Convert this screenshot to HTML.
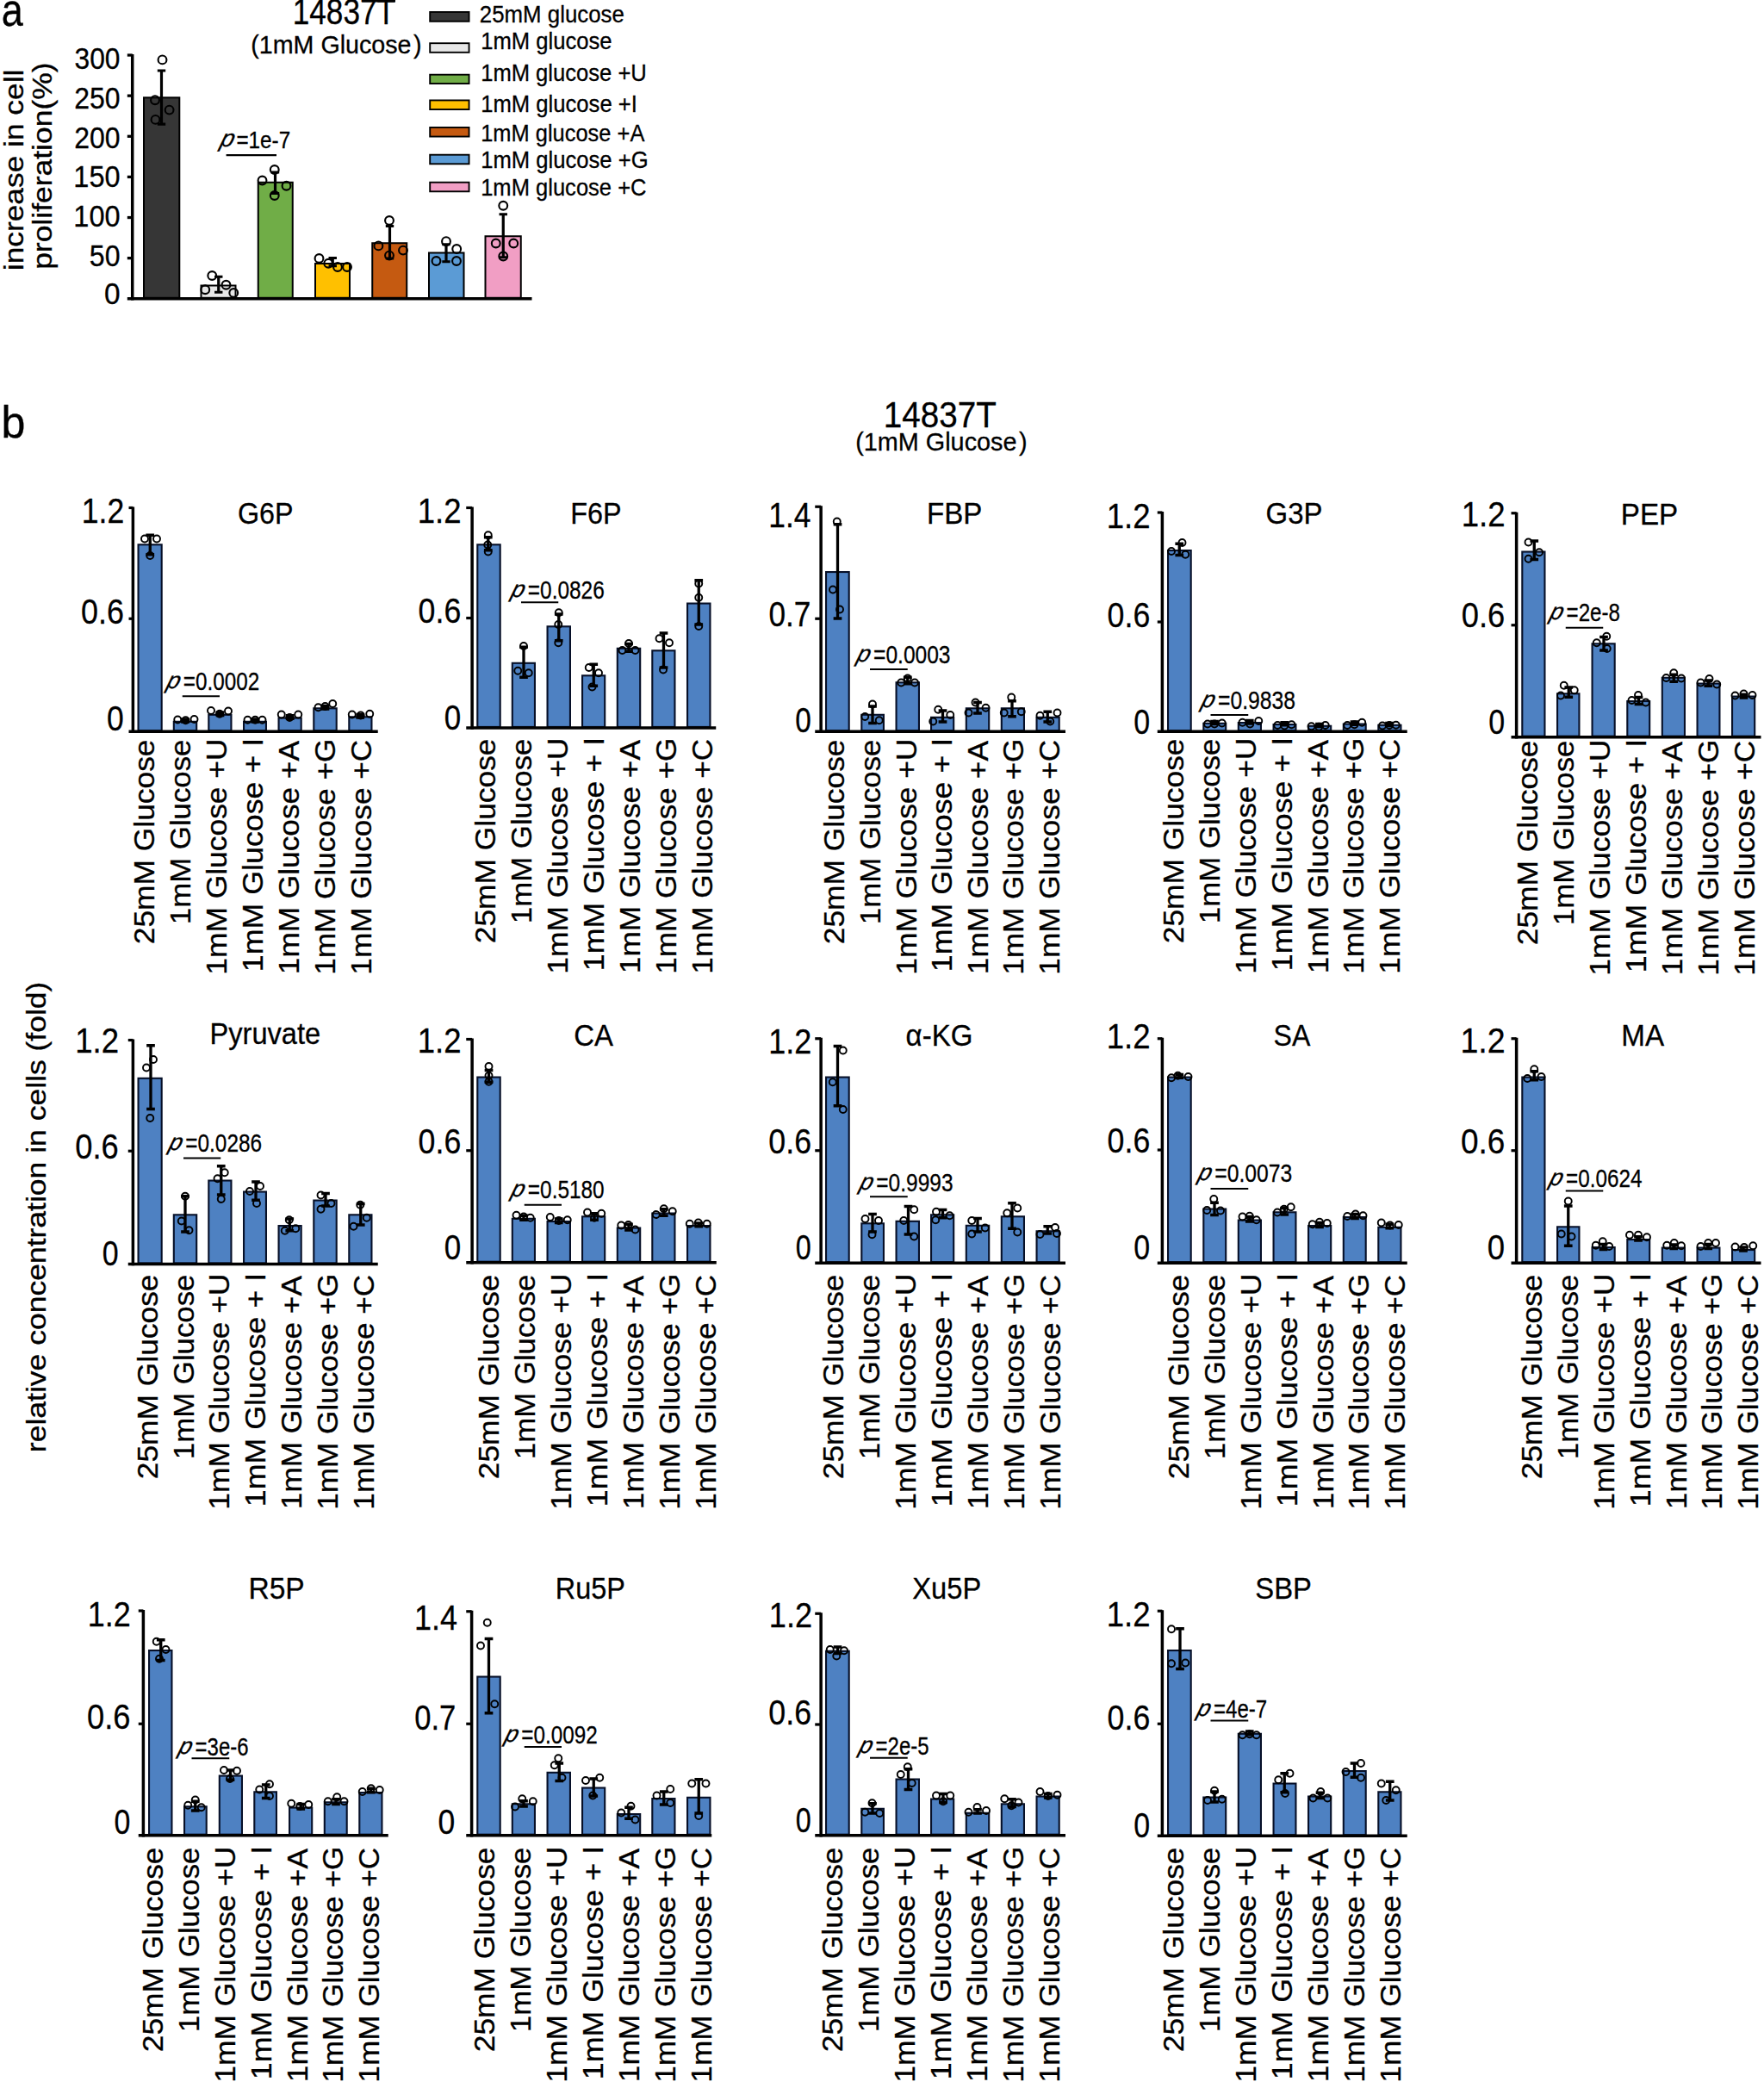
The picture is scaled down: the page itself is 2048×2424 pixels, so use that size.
<!DOCTYPE html>
<html lang="en"><head><meta charset="utf-8"><title>Figure</title>
<style>
html,body{margin:0;padding:0;background:#fff}
svg{display:block}
text{font-family:"Liberation Sans",sans-serif;fill:#000;stroke:#000;stroke-width:0.3px}
</style></head><body>
<svg width="2048" height="2424" viewBox="0 0 2048 2424">
<rect width="2048" height="2424" fill="#fff"/>
<g><!-- G6P -->
<rect x="160.55" y="632.30" width="27.15" height="215.90" fill="#4E81C2" stroke="#071028" stroke-width="2.1"/>
<rect x="201.80" y="837.80" width="26.40" height="10.40" fill="#4E81C2" stroke="#071028" stroke-width="2.1"/>
<rect x="242.30" y="829.80" width="26.15" height="18.40" fill="#4E81C2" stroke="#071028" stroke-width="2.1"/>
<rect x="283.05" y="837.80" width="25.90" height="10.40" fill="#4E81C2" stroke="#071028" stroke-width="2.1"/>
<rect x="323.55" y="833.55" width="26.15" height="14.65" fill="#4E81C2" stroke="#071028" stroke-width="2.1"/>
<rect x="364.30" y="822.30" width="26.40" height="25.90" fill="#4E81C2" stroke="#071028" stroke-width="2.1"/>
<rect x="405.30" y="832.30" width="26.15" height="15.90" fill="#4E81C2" stroke="#071028" stroke-width="2.1"/>
<path d="M154.38 588.55L154.38 851.00" stroke="#000" stroke-width="3.5" fill="none"/>
<path d="M149.50 849.25L438.75 849.25" stroke="#000" stroke-width="3.5" fill="none"/>
<path d="M149.50 589.50L154.38 589.50" stroke="#000" stroke-width="3.2" fill="none"/>
<path d="M149.50 718.25L154.38 718.25" stroke="#000" stroke-width="3.2" fill="none"/>
<path d="M174.25 621.25V643.75M169.40 621.25H179.10M169.40 643.75H179.10" stroke="#000" stroke-width="3.3" fill="none"/>
<path d="M215.00 835.00V838.00M210.15 835.00H219.85M210.15 838.00H219.85" stroke="#000" stroke-width="3.3" fill="none"/>
<path d="M255.50 827.00V830.50M250.65 827.00H260.35M250.65 830.50H260.35" stroke="#000" stroke-width="3.3" fill="none"/>
<path d="M296.25 835.00V838.00M291.40 835.00H301.10M291.40 838.00H301.10" stroke="#000" stroke-width="3.3" fill="none"/>
<path d="M336.75 830.75V834.25M331.90 830.75H341.60M331.90 834.25H341.60" stroke="#000" stroke-width="3.3" fill="none"/>
<path d="M377.50 819.50V823.00M372.65 819.50H382.35M372.65 823.00H382.35" stroke="#000" stroke-width="3.3" fill="none"/>
<path d="M418.25 829.50V833.00M413.40 829.50H423.10M413.40 833.00H423.10" stroke="#000" stroke-width="3.3" fill="none"/>
<circle cx="168.00" cy="625.50" r="4.0" fill="none" stroke="#000" stroke-width="1.9"/>
<circle cx="182.00" cy="625.50" r="4.0" fill="none" stroke="#000" stroke-width="1.9"/>
<circle cx="174.25" cy="645.00" r="4.0" fill="none" stroke="#000" stroke-width="1.9"/>
<circle cx="206.25" cy="835.50" r="4.0" fill="none" stroke="#000" stroke-width="1.9"/>
<circle cx="215.50" cy="836.25" r="4.0" fill="none" stroke="#000" stroke-width="1.9"/>
<circle cx="225.50" cy="835.00" r="4.0" fill="none" stroke="#000" stroke-width="1.9"/>
<circle cx="245.00" cy="825.00" r="4.0" fill="none" stroke="#000" stroke-width="1.9"/>
<circle cx="255.00" cy="828.75" r="4.0" fill="none" stroke="#000" stroke-width="1.9"/>
<circle cx="265.00" cy="825.50" r="4.0" fill="none" stroke="#000" stroke-width="1.9"/>
<circle cx="287.50" cy="835.75" r="4.0" fill="none" stroke="#000" stroke-width="1.9"/>
<circle cx="296.25" cy="835.75" r="4.0" fill="none" stroke="#000" stroke-width="1.9"/>
<circle cx="304.50" cy="835.75" r="4.0" fill="none" stroke="#000" stroke-width="1.9"/>
<circle cx="326.75" cy="829.50" r="4.0" fill="none" stroke="#000" stroke-width="1.9"/>
<circle cx="336.25" cy="833.00" r="4.0" fill="none" stroke="#000" stroke-width="1.9"/>
<circle cx="346.25" cy="829.50" r="4.0" fill="none" stroke="#000" stroke-width="1.9"/>
<circle cx="369.50" cy="821.25" r="4.0" fill="none" stroke="#000" stroke-width="1.9"/>
<circle cx="377.50" cy="820.00" r="4.0" fill="none" stroke="#000" stroke-width="1.9"/>
<circle cx="386.25" cy="817.00" r="4.0" fill="none" stroke="#000" stroke-width="1.9"/>
<circle cx="408.75" cy="829.50" r="4.0" fill="none" stroke="#000" stroke-width="1.9"/>
<circle cx="418.75" cy="830.50" r="4.0" fill="none" stroke="#000" stroke-width="1.9"/>
<circle cx="429.25" cy="828.75" r="4.0" fill="none" stroke="#000" stroke-width="1.9"/>
<text transform="translate(275.89,608.00) scale(0.9021,1)" font-size="35.76">G6P</text>
<text transform="translate(94.79,606.55) scale(0.8569,1)" font-size="41.55">1.2</text>
<text transform="translate(94.10,724.05) scale(0.8649,1)" font-size="41.55">0.6</text>
<text transform="translate(124.12,847.80) scale(0.8542,1)" font-size="41.55">0</text>
<text transform="translate(212.84,801.25) scale(0.8344,1)" font-size="29.08">=0.0002</text>
<text transform="translate(192.20,799.45) skewX(-16)" font-size="27" font-style="italic">p</text>
<path d="M211.75 808.25L255.00 808.25" stroke="#000" stroke-width="2.2" fill="none"/>
<text transform="translate(178.80,1096.27) rotate(-90) scale(1.0580,1)" font-size="33.43">25mM Glucose</text>
<text transform="translate(220.80,1073.15) rotate(-90) scale(1.0411,1)" font-size="33.43">1mM Glucose</text>
<text transform="translate(262.80,1131.69) rotate(-90) scale(1.0588,1)" font-size="33.43">1mM Glucose +U</text>
<text transform="translate(304.80,1128.22) rotate(-90) scale(1.0706,1)" font-size="33.43">1mM Glucose + I</text>
<text transform="translate(346.80,1131.18) rotate(-90) scale(1.0542,1)" font-size="33.43">1mM Glucose +A</text>
<text transform="translate(388.80,1131.67) rotate(-90) scale(1.0507,1)" font-size="33.43">1mM Glucose +G</text>
<text transform="translate(430.80,1131.68) rotate(-90) scale(1.0534,1)" font-size="33.43">1mM Glucose +C</text>
</g>
<g><!-- F6P -->
<rect x="554.30" y="632.30" width="26.40" height="211.65" fill="#4E81C2" stroke="#071028" stroke-width="2.1"/>
<rect x="594.80" y="769.80" width="26.15" height="74.15" fill="#4E81C2" stroke="#071028" stroke-width="2.1"/>
<rect x="635.55" y="727.30" width="26.40" height="116.65" fill="#4E81C2" stroke="#071028" stroke-width="2.1"/>
<rect x="676.05" y="784.30" width="26.15" height="59.65" fill="#4E81C2" stroke="#071028" stroke-width="2.1"/>
<rect x="716.80" y="752.80" width="26.40" height="91.15" fill="#4E81C2" stroke="#071028" stroke-width="2.1"/>
<rect x="757.30" y="755.30" width="26.15" height="88.65" fill="#4E81C2" stroke="#071028" stroke-width="2.1"/>
<rect x="798.05" y="700.55" width="26.40" height="143.40" fill="#4E81C2" stroke="#071028" stroke-width="2.1"/>
<path d="M548.12 588.55L548.12 846.75" stroke="#000" stroke-width="3.5" fill="none"/>
<path d="M541.25 845.00L831.25 845.00" stroke="#000" stroke-width="3.5" fill="none"/>
<path d="M541.25 589.50L548.12 589.50" stroke="#000" stroke-width="3.2" fill="none"/>
<path d="M541.25 717.50L548.12 717.50" stroke="#000" stroke-width="3.2" fill="none"/>
<path d="M566.75 623.75V638.75M561.90 623.75H571.60M561.90 638.75H571.60" stroke="#000" stroke-width="3.3" fill="none"/>
<path d="M608.00 751.25V786.25M603.15 751.25H612.85M603.15 786.25H612.85" stroke="#000" stroke-width="3.3" fill="none"/>
<path d="M648.75 713.00V743.75M643.90 713.00H653.60M643.90 743.75H653.60" stroke="#000" stroke-width="3.3" fill="none"/>
<path d="M689.25 771.25V796.25M684.40 771.25H694.10M684.40 796.25H694.10" stroke="#000" stroke-width="3.3" fill="none"/>
<path d="M730.00 747.50V756.25M725.15 747.50H734.85M725.15 756.25H734.85" stroke="#000" stroke-width="3.3" fill="none"/>
<path d="M770.50 735.00V775.00M765.65 735.00H775.35M765.65 775.00H775.35" stroke="#000" stroke-width="3.3" fill="none"/>
<path d="M811.25 673.75V725.00M806.40 673.75H816.10M806.40 725.00H816.10" stroke="#000" stroke-width="3.3" fill="none"/>
<circle cx="566.75" cy="621.25" r="4.0" fill="none" stroke="#000" stroke-width="1.9"/>
<circle cx="566.25" cy="632.50" r="4.0" fill="none" stroke="#000" stroke-width="1.9"/>
<circle cx="566.75" cy="640.50" r="4.0" fill="none" stroke="#000" stroke-width="1.9"/>
<circle cx="608.00" cy="750.00" r="4.0" fill="none" stroke="#000" stroke-width="1.9"/>
<circle cx="601.25" cy="778.75" r="4.0" fill="none" stroke="#000" stroke-width="1.9"/>
<circle cx="613.75" cy="781.25" r="4.0" fill="none" stroke="#000" stroke-width="1.9"/>
<circle cx="648.75" cy="711.25" r="4.0" fill="none" stroke="#000" stroke-width="1.9"/>
<circle cx="648.25" cy="725.00" r="4.0" fill="none" stroke="#000" stroke-width="1.9"/>
<circle cx="648.25" cy="746.25" r="4.0" fill="none" stroke="#000" stroke-width="1.9"/>
<circle cx="683.75" cy="775.00" r="4.0" fill="none" stroke="#000" stroke-width="1.9"/>
<circle cx="695.00" cy="781.25" r="4.0" fill="none" stroke="#000" stroke-width="1.9"/>
<circle cx="687.50" cy="797.50" r="4.0" fill="none" stroke="#000" stroke-width="1.9"/>
<circle cx="730.00" cy="747.00" r="4.0" fill="none" stroke="#000" stroke-width="1.9"/>
<circle cx="722.50" cy="755.00" r="4.0" fill="none" stroke="#000" stroke-width="1.9"/>
<circle cx="737.50" cy="755.00" r="4.0" fill="none" stroke="#000" stroke-width="1.9"/>
<circle cx="765.50" cy="741.25" r="4.0" fill="none" stroke="#000" stroke-width="1.9"/>
<circle cx="777.00" cy="746.25" r="4.0" fill="none" stroke="#000" stroke-width="1.9"/>
<circle cx="770.00" cy="777.50" r="4.0" fill="none" stroke="#000" stroke-width="1.9"/>
<circle cx="811.25" cy="677.50" r="4.0" fill="none" stroke="#000" stroke-width="1.9"/>
<circle cx="811.25" cy="693.75" r="4.0" fill="none" stroke="#000" stroke-width="1.9"/>
<circle cx="811.25" cy="727.00" r="4.0" fill="none" stroke="#000" stroke-width="1.9"/>
<text transform="translate(662.35,608.00) scale(0.9048,1)" font-size="35.76">F6P</text>
<text transform="translate(484.72,607.30) scale(0.8807,1)" font-size="41.55">1.2</text>
<text transform="translate(485.61,722.80) scale(0.8603,1)" font-size="41.55">0.6</text>
<text transform="translate(515.64,847.30) scale(0.8417,1)" font-size="41.55">0</text>
<text transform="translate(612.83,695.00) scale(0.8400,1)" font-size="29.08">=0.0826</text>
<text transform="translate(592.20,693.20) skewX(-16)" font-size="27" font-style="italic">p</text>
<path d="M605.00 699.25L648.25 699.25" stroke="#000" stroke-width="2.2" fill="none"/>
<text transform="translate(575.30,1095.27) rotate(-90) scale(1.0580,1)" font-size="33.43">25mM Glucose</text>
<text transform="translate(617.30,1072.15) rotate(-90) scale(1.0411,1)" font-size="33.43">1mM Glucose</text>
<text transform="translate(659.30,1130.69) rotate(-90) scale(1.0588,1)" font-size="33.43">1mM Glucose +U</text>
<text transform="translate(701.30,1127.22) rotate(-90) scale(1.0706,1)" font-size="33.43">1mM Glucose + I</text>
<text transform="translate(743.30,1130.18) rotate(-90) scale(1.0542,1)" font-size="33.43">1mM Glucose +A</text>
<text transform="translate(785.30,1130.67) rotate(-90) scale(1.0507,1)" font-size="33.43">1mM Glucose +G</text>
<text transform="translate(827.30,1130.68) rotate(-90) scale(1.0534,1)" font-size="33.43">1mM Glucose +C</text>
</g>
<g><!-- FBP -->
<rect x="959.05" y="664.05" width="26.65" height="184.15" fill="#4E81C2" stroke="#071028" stroke-width="2.1"/>
<rect x="1000.30" y="829.80" width="25.65" height="18.40" fill="#4E81C2" stroke="#071028" stroke-width="2.1"/>
<rect x="1040.55" y="792.30" width="26.40" height="55.90" fill="#4E81C2" stroke="#071028" stroke-width="2.1"/>
<rect x="1081.05" y="832.80" width="26.15" height="15.40" fill="#4E81C2" stroke="#071028" stroke-width="2.1"/>
<rect x="1121.80" y="822.30" width="26.40" height="25.90" fill="#4E81C2" stroke="#071028" stroke-width="2.1"/>
<rect x="1162.80" y="822.30" width="26.15" height="25.90" fill="#4E81C2" stroke="#071028" stroke-width="2.1"/>
<rect x="1203.55" y="832.80" width="26.15" height="15.40" fill="#4E81C2" stroke="#071028" stroke-width="2.1"/>
<path d="M953.12 587.30L953.12 851.00" stroke="#000" stroke-width="3.5" fill="none"/>
<path d="M946.25 849.25L1237.00 849.25" stroke="#000" stroke-width="3.5" fill="none"/>
<path d="M946.25 588.25L953.12 588.25" stroke="#000" stroke-width="3.2" fill="none"/>
<path d="M946.25 718.25L953.12 718.25" stroke="#000" stroke-width="3.2" fill="none"/>
<path d="M972.50 608.75V718.00M967.65 608.75H977.35M967.65 718.00H977.35" stroke="#000" stroke-width="3.3" fill="none"/>
<path d="M1013.00 820.00V839.50M1008.15 820.00H1017.85M1008.15 839.50H1017.85" stroke="#000" stroke-width="3.3" fill="none"/>
<path d="M1053.75 786.25V793.75M1048.90 786.25H1058.60M1048.90 793.75H1058.60" stroke="#000" stroke-width="3.3" fill="none"/>
<path d="M1094.50 825.00V838.00M1089.65 825.00H1099.35M1089.65 838.00H1099.35" stroke="#000" stroke-width="3.3" fill="none"/>
<path d="M1135.00 815.50V828.00M1130.15 815.50H1139.85M1130.15 828.00H1139.85" stroke="#000" stroke-width="3.3" fill="none"/>
<path d="M1175.00 813.75V831.75M1170.15 813.75H1179.85M1170.15 831.75H1179.85" stroke="#000" stroke-width="3.3" fill="none"/>
<path d="M1216.25 826.25V838.00M1211.40 826.25H1221.10M1211.40 838.00H1221.10" stroke="#000" stroke-width="3.3" fill="none"/>
<circle cx="971.75" cy="605.50" r="4.0" fill="none" stroke="#000" stroke-width="1.9"/>
<circle cx="967.00" cy="684.50" r="4.0" fill="none" stroke="#000" stroke-width="1.9"/>
<circle cx="975.00" cy="707.50" r="4.0" fill="none" stroke="#000" stroke-width="1.9"/>
<circle cx="1013.00" cy="817.50" r="4.0" fill="none" stroke="#000" stroke-width="1.9"/>
<circle cx="1004.25" cy="832.00" r="4.0" fill="none" stroke="#000" stroke-width="1.9"/>
<circle cx="1020.75" cy="836.25" r="4.0" fill="none" stroke="#000" stroke-width="1.9"/>
<circle cx="1053.75" cy="787.50" r="4.0" fill="none" stroke="#000" stroke-width="1.9"/>
<circle cx="1046.25" cy="792.50" r="4.0" fill="none" stroke="#000" stroke-width="1.9"/>
<circle cx="1062.00" cy="792.50" r="4.0" fill="none" stroke="#000" stroke-width="1.9"/>
<circle cx="1089.25" cy="823.75" r="4.0" fill="none" stroke="#000" stroke-width="1.9"/>
<circle cx="1103.25" cy="830.00" r="4.0" fill="none" stroke="#000" stroke-width="1.9"/>
<circle cx="1083.25" cy="837.50" r="4.0" fill="none" stroke="#000" stroke-width="1.9"/>
<circle cx="1132.50" cy="815.50" r="4.0" fill="none" stroke="#000" stroke-width="1.9"/>
<circle cx="1144.50" cy="821.75" r="4.0" fill="none" stroke="#000" stroke-width="1.9"/>
<circle cx="1124.50" cy="827.50" r="4.0" fill="none" stroke="#000" stroke-width="1.9"/>
<circle cx="1174.25" cy="809.50" r="4.0" fill="none" stroke="#000" stroke-width="1.9"/>
<circle cx="1165.75" cy="827.50" r="4.0" fill="none" stroke="#000" stroke-width="1.9"/>
<circle cx="1185.75" cy="826.25" r="4.0" fill="none" stroke="#000" stroke-width="1.9"/>
<circle cx="1227.50" cy="827.50" r="4.0" fill="none" stroke="#000" stroke-width="1.9"/>
<circle cx="1207.50" cy="830.75" r="4.0" fill="none" stroke="#000" stroke-width="1.9"/>
<circle cx="1219.25" cy="837.50" r="4.0" fill="none" stroke="#000" stroke-width="1.9"/>
<text transform="translate(1076.03,608.00) scale(0.9266,1)" font-size="35.76">FBP</text>
<text transform="translate(892.31,612.30) scale(0.8522,1)" font-size="41.55">1.4</text>
<text transform="translate(892.38,726.55) scale(0.8464,1)" font-size="41.55">0.7</text>
<text transform="translate(923.20,849.80) scale(0.8040,1)" font-size="41.55">0</text>
<text transform="translate(1014.07,769.50) scale(0.8448,1)" font-size="29.08">=0.0003</text>
<text transform="translate(993.45,767.70) skewX(-16)" font-size="27" font-style="italic">p</text>
<path d="M1010.00 777.00L1053.75 777.00" stroke="#000" stroke-width="2.2" fill="none"/>
<text transform="translate(980.30,1096.27) rotate(-90) scale(1.0580,1)" font-size="33.43">25mM Glucose</text>
<text transform="translate(1021.90,1073.15) rotate(-90) scale(1.0411,1)" font-size="33.43">1mM Glucose</text>
<text transform="translate(1063.50,1131.69) rotate(-90) scale(1.0588,1)" font-size="33.43">1mM Glucose +U</text>
<text transform="translate(1105.10,1128.22) rotate(-90) scale(1.0706,1)" font-size="33.43">1mM Glucose + I</text>
<text transform="translate(1146.70,1131.18) rotate(-90) scale(1.0542,1)" font-size="33.43">1mM Glucose +A</text>
<text transform="translate(1188.30,1131.67) rotate(-90) scale(1.0507,1)" font-size="33.43">1mM Glucose +G</text>
<text transform="translate(1229.90,1131.68) rotate(-90) scale(1.0534,1)" font-size="33.43">1mM Glucose +C</text>
</g>
<g><!-- G3P -->
<rect x="1356.05" y="639.05" width="26.65" height="209.15" fill="#4E81C2" stroke="#071028" stroke-width="2.1"/>
<rect x="1397.30" y="839.80" width="25.90" height="8.40" fill="#4E81C2" stroke="#071028" stroke-width="2.1"/>
<rect x="1437.80" y="839.05" width="26.15" height="9.15" fill="#4E81C2" stroke="#071028" stroke-width="2.1"/>
<rect x="1478.55" y="841.05" width="25.90" height="7.15" fill="#4E81C2" stroke="#071028" stroke-width="2.1"/>
<rect x="1519.05" y="842.80" width="26.15" height="5.40" fill="#4E81C2" stroke="#071028" stroke-width="2.1"/>
<rect x="1559.80" y="840.55" width="25.90" height="7.65" fill="#4E81C2" stroke="#071028" stroke-width="2.1"/>
<rect x="1600.30" y="841.80" width="26.15" height="6.40" fill="#4E81C2" stroke="#071028" stroke-width="2.1"/>
<path d="M1349.38 594.05L1349.38 851.00" stroke="#000" stroke-width="3.5" fill="none"/>
<path d="M1343.75 849.25L1633.75 849.25" stroke="#000" stroke-width="3.5" fill="none"/>
<path d="M1343.75 595.00L1349.38 595.00" stroke="#000" stroke-width="3.2" fill="none"/>
<path d="M1343.75 722.00L1349.38 722.00" stroke="#000" stroke-width="3.2" fill="none"/>
<path d="M1369.25 631.25V644.50M1364.40 631.25H1374.10M1364.40 644.50H1374.10" stroke="#000" stroke-width="3.3" fill="none"/>
<path d="M1410.00 837.50V840.50M1405.15 837.50H1414.85M1405.15 840.50H1414.85" stroke="#000" stroke-width="3.3" fill="none"/>
<path d="M1450.75 836.50V840.00M1445.90 836.50H1455.60M1445.90 840.00H1455.60" stroke="#000" stroke-width="3.3" fill="none"/>
<path d="M1491.25 838.75V841.75M1486.40 838.75H1496.10M1486.40 841.75H1496.10" stroke="#000" stroke-width="3.3" fill="none"/>
<path d="M1532.00 840.50V843.50M1527.15 840.50H1536.85M1527.15 843.50H1536.85" stroke="#000" stroke-width="3.3" fill="none"/>
<path d="M1572.50 838.00V841.25M1567.65 838.00H1577.35M1567.65 841.25H1577.35" stroke="#000" stroke-width="3.3" fill="none"/>
<path d="M1613.00 839.50V842.50M1608.15 839.50H1617.85M1608.15 842.50H1617.85" stroke="#000" stroke-width="3.3" fill="none"/>
<circle cx="1372.50" cy="630.00" r="4.0" fill="none" stroke="#000" stroke-width="1.9"/>
<circle cx="1360.00" cy="640.00" r="4.0" fill="none" stroke="#000" stroke-width="1.9"/>
<circle cx="1376.25" cy="643.75" r="4.0" fill="none" stroke="#000" stroke-width="1.9"/>
<circle cx="1402.00" cy="840.50" r="4.0" fill="none" stroke="#000" stroke-width="1.9"/>
<circle cx="1410.00" cy="840.50" r="4.0" fill="none" stroke="#000" stroke-width="1.9"/>
<circle cx="1418.75" cy="839.50" r="4.0" fill="none" stroke="#000" stroke-width="1.9"/>
<circle cx="1442.50" cy="838.75" r="4.0" fill="none" stroke="#000" stroke-width="1.9"/>
<circle cx="1451.25" cy="840.50" r="4.0" fill="none" stroke="#000" stroke-width="1.9"/>
<circle cx="1461.25" cy="837.00" r="4.0" fill="none" stroke="#000" stroke-width="1.9"/>
<circle cx="1483.25" cy="842.00" r="4.0" fill="none" stroke="#000" stroke-width="1.9"/>
<circle cx="1491.25" cy="842.50" r="4.0" fill="none" stroke="#000" stroke-width="1.9"/>
<circle cx="1499.50" cy="841.25" r="4.0" fill="none" stroke="#000" stroke-width="1.9"/>
<circle cx="1522.50" cy="843.25" r="4.0" fill="none" stroke="#000" stroke-width="1.9"/>
<circle cx="1531.25" cy="843.75" r="4.0" fill="none" stroke="#000" stroke-width="1.9"/>
<circle cx="1538.75" cy="842.00" r="4.0" fill="none" stroke="#000" stroke-width="1.9"/>
<circle cx="1564.25" cy="842.00" r="4.0" fill="none" stroke="#000" stroke-width="1.9"/>
<circle cx="1572.50" cy="841.25" r="4.0" fill="none" stroke="#000" stroke-width="1.9"/>
<circle cx="1581.25" cy="838.75" r="4.0" fill="none" stroke="#000" stroke-width="1.9"/>
<circle cx="1605.00" cy="842.50" r="4.0" fill="none" stroke="#000" stroke-width="1.9"/>
<circle cx="1613.00" cy="842.00" r="4.0" fill="none" stroke="#000" stroke-width="1.9"/>
<circle cx="1620.75" cy="841.75" r="4.0" fill="none" stroke="#000" stroke-width="1.9"/>
<text transform="translate(1469.60,608.00) scale(0.9205,1)" font-size="35.76">G3P</text>
<text transform="translate(1284.72,613.30) scale(0.8807,1)" font-size="41.55">1.2</text>
<text transform="translate(1285.61,728.30) scale(0.8603,1)" font-size="41.55">0.6</text>
<text transform="translate(1316.18,851.55) scale(0.8165,1)" font-size="41.55">0</text>
<text transform="translate(1414.06,822.50) scale(0.8497,1)" font-size="29.08">=0.9838</text>
<text transform="translate(1393.45,820.70) skewX(-16)" font-size="27" font-style="italic">p</text>
<path d="M1405.50 830.00L1449.25 830.00" stroke="#000" stroke-width="2.2" fill="none"/>
<text transform="translate(1374.30,1095.27) rotate(-90) scale(1.0580,1)" font-size="33.43">25mM Glucose</text>
<text transform="translate(1416.10,1072.15) rotate(-90) scale(1.0411,1)" font-size="33.43">1mM Glucose</text>
<text transform="translate(1457.90,1130.69) rotate(-90) scale(1.0588,1)" font-size="33.43">1mM Glucose +U</text>
<text transform="translate(1499.70,1127.22) rotate(-90) scale(1.0706,1)" font-size="33.43">1mM Glucose + I</text>
<text transform="translate(1541.50,1130.18) rotate(-90) scale(1.0542,1)" font-size="33.43">1mM Glucose +A</text>
<text transform="translate(1583.30,1130.67) rotate(-90) scale(1.0507,1)" font-size="33.43">1mM Glucose +G</text>
<text transform="translate(1625.10,1130.68) rotate(-90) scale(1.0534,1)" font-size="33.43">1mM Glucose +C</text>
</g>
<g><!-- PEP -->
<rect x="1767.30" y="640.55" width="26.15" height="214.15" fill="#4E81C2" stroke="#071028" stroke-width="2.1"/>
<rect x="1808.05" y="805.30" width="25.40" height="49.40" fill="#4E81C2" stroke="#071028" stroke-width="2.1"/>
<rect x="1848.55" y="747.30" width="26.15" height="107.40" fill="#4E81C2" stroke="#071028" stroke-width="2.1"/>
<rect x="1889.30" y="814.05" width="25.90" height="40.65" fill="#4E81C2" stroke="#071028" stroke-width="2.1"/>
<rect x="1929.80" y="786.80" width="26.15" height="67.90" fill="#4E81C2" stroke="#071028" stroke-width="2.1"/>
<rect x="1970.55" y="793.55" width="25.90" height="61.15" fill="#4E81C2" stroke="#071028" stroke-width="2.1"/>
<rect x="2011.05" y="808.55" width="26.15" height="46.15" fill="#4E81C2" stroke="#071028" stroke-width="2.1"/>
<path d="M1760.62 594.80L1760.62 857.50" stroke="#000" stroke-width="3.5" fill="none"/>
<path d="M1754.50 855.75L2044.50 855.75" stroke="#000" stroke-width="3.5" fill="none"/>
<path d="M1754.50 595.75L1760.62 595.75" stroke="#000" stroke-width="3.2" fill="none"/>
<path d="M1754.50 725.75L1760.62 725.75" stroke="#000" stroke-width="3.2" fill="none"/>
<path d="M1781.25 628.00V649.50M1776.40 628.00H1786.10M1776.40 649.50H1786.10" stroke="#000" stroke-width="3.3" fill="none"/>
<path d="M1821.25 798.00V809.25M1816.40 798.00H1826.10M1816.40 809.25H1826.10" stroke="#000" stroke-width="3.3" fill="none"/>
<path d="M1862.00 739.50V755.00M1857.15 739.50H1866.85M1857.15 755.00H1866.85" stroke="#000" stroke-width="3.3" fill="none"/>
<path d="M1902.50 809.50V817.50M1897.65 809.50H1907.35M1897.65 817.50H1907.35" stroke="#000" stroke-width="3.3" fill="none"/>
<path d="M1943.25 783.25V791.25M1938.40 783.25H1948.10M1938.40 791.25H1948.10" stroke="#000" stroke-width="3.3" fill="none"/>
<path d="M1983.25 790.00V796.25M1978.40 790.00H1988.10M1978.40 796.25H1988.10" stroke="#000" stroke-width="3.3" fill="none"/>
<path d="M2024.50 806.25V810.00M2019.65 806.25H2029.35M2019.65 810.00H2029.35" stroke="#000" stroke-width="3.3" fill="none"/>
<circle cx="1774.50" cy="629.50" r="4.0" fill="none" stroke="#000" stroke-width="1.9"/>
<circle cx="1787.00" cy="641.25" r="4.0" fill="none" stroke="#000" stroke-width="1.9"/>
<circle cx="1774.50" cy="648.75" r="4.0" fill="none" stroke="#000" stroke-width="1.9"/>
<circle cx="1815.75" cy="795.75" r="4.0" fill="none" stroke="#000" stroke-width="1.9"/>
<circle cx="1827.75" cy="801.25" r="4.0" fill="none" stroke="#000" stroke-width="1.9"/>
<circle cx="1812.00" cy="807.50" r="4.0" fill="none" stroke="#000" stroke-width="1.9"/>
<circle cx="1865.25" cy="738.75" r="4.0" fill="none" stroke="#000" stroke-width="1.9"/>
<circle cx="1853.75" cy="746.25" r="4.0" fill="none" stroke="#000" stroke-width="1.9"/>
<circle cx="1865.75" cy="753.00" r="4.0" fill="none" stroke="#000" stroke-width="1.9"/>
<circle cx="1902.00" cy="807.00" r="4.0" fill="none" stroke="#000" stroke-width="1.9"/>
<circle cx="1894.50" cy="813.00" r="4.0" fill="none" stroke="#000" stroke-width="1.9"/>
<circle cx="1910.75" cy="815.50" r="4.0" fill="none" stroke="#000" stroke-width="1.9"/>
<circle cx="1943.25" cy="781.25" r="4.0" fill="none" stroke="#000" stroke-width="1.9"/>
<circle cx="1934.50" cy="787.00" r="4.0" fill="none" stroke="#000" stroke-width="1.9"/>
<circle cx="1952.00" cy="787.50" r="4.0" fill="none" stroke="#000" stroke-width="1.9"/>
<circle cx="1984.50" cy="788.00" r="4.0" fill="none" stroke="#000" stroke-width="1.9"/>
<circle cx="1974.50" cy="792.50" r="4.0" fill="none" stroke="#000" stroke-width="1.9"/>
<circle cx="1993.25" cy="794.50" r="4.0" fill="none" stroke="#000" stroke-width="1.9"/>
<circle cx="2014.50" cy="807.50" r="4.0" fill="none" stroke="#000" stroke-width="1.9"/>
<circle cx="2024.50" cy="805.50" r="4.0" fill="none" stroke="#000" stroke-width="1.9"/>
<circle cx="2034.50" cy="807.00" r="4.0" fill="none" stroke="#000" stroke-width="1.9"/>
<text transform="translate(1881.78,608.50) scale(0.9288,1)" font-size="35.76">PEP</text>
<text transform="translate(1696.72,610.80) scale(0.8807,1)" font-size="41.55">1.2</text>
<text transform="translate(1696.83,728.30) scale(0.8741,1)" font-size="41.55">0.6</text>
<text transform="translate(1728.18,851.55) scale(0.8165,1)" font-size="41.55">0</text>
<text transform="translate(1818.59,720.75) scale(0.8307,1)" font-size="29.08">=2e-8</text>
<text transform="translate(1797.95,718.95) skewX(-16)" font-size="27" font-style="italic">p</text>
<path d="M1817.75 728.75L1861.25 728.75" stroke="#000" stroke-width="2.2" fill="none"/>
<text transform="translate(1785.30,1097.27) rotate(-90) scale(1.0580,1)" font-size="33.43">25mM Glucose</text>
<text transform="translate(1827.20,1074.15) rotate(-90) scale(1.0411,1)" font-size="33.43">1mM Glucose</text>
<text transform="translate(1869.10,1132.69) rotate(-90) scale(1.0588,1)" font-size="33.43">1mM Glucose +U</text>
<text transform="translate(1911.00,1129.22) rotate(-90) scale(1.0706,1)" font-size="33.43">1mM Glucose + I</text>
<text transform="translate(1952.90,1132.18) rotate(-90) scale(1.0542,1)" font-size="33.43">1mM Glucose +A</text>
<text transform="translate(1994.80,1132.67) rotate(-90) scale(1.0507,1)" font-size="33.43">1mM Glucose +G</text>
<text transform="translate(2036.70,1132.68) rotate(-90) scale(1.0534,1)" font-size="33.43">1mM Glucose +C</text>
</g>
<g><!-- Pyruvate -->
<rect x="160.55" y="1251.80" width="27.15" height="214.65" fill="#4E81C2" stroke="#071028" stroke-width="2.1"/>
<rect x="201.80" y="1410.30" width="26.40" height="56.15" fill="#4E81C2" stroke="#071028" stroke-width="2.1"/>
<rect x="242.30" y="1370.55" width="26.15" height="95.90" fill="#4E81C2" stroke="#071028" stroke-width="2.1"/>
<rect x="283.05" y="1383.55" width="25.90" height="82.90" fill="#4E81C2" stroke="#071028" stroke-width="2.1"/>
<rect x="323.55" y="1423.05" width="26.15" height="43.40" fill="#4E81C2" stroke="#071028" stroke-width="2.1"/>
<rect x="364.30" y="1393.55" width="26.40" height="72.90" fill="#4E81C2" stroke="#071028" stroke-width="2.1"/>
<rect x="405.30" y="1410.30" width="26.15" height="56.15" fill="#4E81C2" stroke="#071028" stroke-width="2.1"/>
<path d="M154.38 1206.55L154.38 1469.25" stroke="#000" stroke-width="3.5" fill="none"/>
<path d="M148.75 1467.50L438.75 1467.50" stroke="#000" stroke-width="3.5" fill="none"/>
<path d="M148.75 1207.50L154.38 1207.50" stroke="#000" stroke-width="3.2" fill="none"/>
<path d="M148.75 1336.25L154.38 1336.25" stroke="#000" stroke-width="3.2" fill="none"/>
<path d="M175.00 1213.75V1287.50M170.15 1213.75H179.85M170.15 1287.50H179.85" stroke="#000" stroke-width="3.3" fill="none"/>
<path d="M215.00 1388.75V1430.00M210.15 1388.75H219.85M210.15 1430.00H219.85" stroke="#000" stroke-width="3.3" fill="none"/>
<path d="M256.75 1353.75V1387.00M251.90 1353.75H261.60M251.90 1387.00H261.60" stroke="#000" stroke-width="3.3" fill="none"/>
<path d="M297.00 1372.00V1393.25M292.15 1372.00H301.85M292.15 1393.25H301.85" stroke="#000" stroke-width="3.3" fill="none"/>
<path d="M336.25 1415.00V1428.75M331.40 1415.00H341.10M331.40 1428.75H341.10" stroke="#000" stroke-width="3.3" fill="none"/>
<path d="M378.00 1385.50V1400.00M373.15 1385.50H382.85M373.15 1400.00H382.85" stroke="#000" stroke-width="3.3" fill="none"/>
<path d="M418.75 1397.50V1422.00M413.90 1397.50H423.60M413.90 1422.00H423.60" stroke="#000" stroke-width="3.3" fill="none"/>
<circle cx="178.00" cy="1230.00" r="4.0" fill="none" stroke="#000" stroke-width="1.9"/>
<circle cx="170.00" cy="1239.50" r="4.0" fill="none" stroke="#000" stroke-width="1.9"/>
<circle cx="174.25" cy="1298.00" r="4.0" fill="none" stroke="#000" stroke-width="1.9"/>
<circle cx="215.00" cy="1388.75" r="4.0" fill="none" stroke="#000" stroke-width="1.9"/>
<circle cx="210.75" cy="1417.50" r="4.0" fill="none" stroke="#000" stroke-width="1.9"/>
<circle cx="219.50" cy="1428.25" r="4.0" fill="none" stroke="#000" stroke-width="1.9"/>
<circle cx="260.75" cy="1361.25" r="4.0" fill="none" stroke="#000" stroke-width="1.9"/>
<circle cx="252.50" cy="1368.25" r="4.0" fill="none" stroke="#000" stroke-width="1.9"/>
<circle cx="256.75" cy="1392.00" r="4.0" fill="none" stroke="#000" stroke-width="1.9"/>
<circle cx="302.00" cy="1377.00" r="4.0" fill="none" stroke="#000" stroke-width="1.9"/>
<circle cx="290.00" cy="1383.00" r="4.0" fill="none" stroke="#000" stroke-width="1.9"/>
<circle cx="298.00" cy="1397.00" r="4.0" fill="none" stroke="#000" stroke-width="1.9"/>
<circle cx="335.75" cy="1416.25" r="4.0" fill="none" stroke="#000" stroke-width="1.9"/>
<circle cx="330.75" cy="1428.75" r="4.0" fill="none" stroke="#000" stroke-width="1.9"/>
<circle cx="343.25" cy="1426.25" r="4.0" fill="none" stroke="#000" stroke-width="1.9"/>
<circle cx="372.50" cy="1387.50" r="4.0" fill="none" stroke="#000" stroke-width="1.9"/>
<circle cx="384.50" cy="1397.00" r="4.0" fill="none" stroke="#000" stroke-width="1.9"/>
<circle cx="372.50" cy="1403.75" r="4.0" fill="none" stroke="#000" stroke-width="1.9"/>
<circle cx="418.25" cy="1398.75" r="4.0" fill="none" stroke="#000" stroke-width="1.9"/>
<circle cx="425.75" cy="1413.75" r="4.0" fill="none" stroke="#000" stroke-width="1.9"/>
<circle cx="410.50" cy="1423.75" r="4.0" fill="none" stroke="#000" stroke-width="1.9"/>
<text transform="translate(243.58,1212.25) scale(0.9115,1)" font-size="35.76">Pyruvate</text>
<text transform="translate(87.22,1222.05) scale(0.8807,1)" font-size="41.55">1.2</text>
<text transform="translate(87.33,1345.30) scale(0.8741,1)" font-size="41.55">0.6</text>
<text transform="translate(118.68,1469.05) scale(0.8165,1)" font-size="41.55">0</text>
<text transform="translate(215.33,1337.00) scale(0.8376,1)" font-size="29.08">=0.0286</text>
<text transform="translate(194.70,1335.20) skewX(-16)" font-size="27" font-style="italic">p</text>
<path d="M213.00 1344.50L256.25 1344.50" stroke="#000" stroke-width="2.2" fill="none"/>
<text transform="translate(182.80,1717.27) rotate(-90) scale(1.0580,1)" font-size="33.43">25mM Glucose</text>
<text transform="translate(224.60,1694.15) rotate(-90) scale(1.0411,1)" font-size="33.43">1mM Glucose</text>
<text transform="translate(266.40,1752.69) rotate(-90) scale(1.0588,1)" font-size="33.43">1mM Glucose +U</text>
<text transform="translate(308.20,1749.22) rotate(-90) scale(1.0706,1)" font-size="33.43">1mM Glucose + I</text>
<text transform="translate(350.00,1752.18) rotate(-90) scale(1.0542,1)" font-size="33.43">1mM Glucose +A</text>
<text transform="translate(391.80,1752.67) rotate(-90) scale(1.0507,1)" font-size="33.43">1mM Glucose +G</text>
<text transform="translate(433.60,1752.68) rotate(-90) scale(1.0534,1)" font-size="33.43">1mM Glucose +C</text>
</g>
<g><!-- CA -->
<rect x="554.30" y="1250.55" width="26.40" height="214.15" fill="#4E81C2" stroke="#071028" stroke-width="2.1"/>
<rect x="594.80" y="1414.80" width="26.15" height="49.90" fill="#4E81C2" stroke="#071028" stroke-width="2.1"/>
<rect x="635.55" y="1418.05" width="26.40" height="46.65" fill="#4E81C2" stroke="#071028" stroke-width="2.1"/>
<rect x="676.05" y="1412.30" width="26.15" height="52.40" fill="#4E81C2" stroke="#071028" stroke-width="2.1"/>
<rect x="716.80" y="1425.55" width="26.40" height="39.15" fill="#4E81C2" stroke="#071028" stroke-width="2.1"/>
<rect x="757.30" y="1408.55" width="26.15" height="56.15" fill="#4E81C2" stroke="#071028" stroke-width="2.1"/>
<rect x="798.05" y="1423.05" width="26.40" height="41.65" fill="#4E81C2" stroke="#071028" stroke-width="2.1"/>
<path d="M548.12 1205.55L548.12 1467.50" stroke="#000" stroke-width="3.5" fill="none"/>
<path d="M541.25 1465.75L831.75 1465.75" stroke="#000" stroke-width="3.5" fill="none"/>
<path d="M541.25 1206.50L548.12 1206.50" stroke="#000" stroke-width="3.2" fill="none"/>
<path d="M541.25 1335.75L548.12 1335.75" stroke="#000" stroke-width="3.2" fill="none"/>
<path d="M567.50 1242.50V1256.25M562.65 1242.50H572.35M562.65 1256.25H572.35" stroke="#000" stroke-width="3.3" fill="none"/>
<path d="M608.00 1411.25V1416.25M603.15 1411.25H612.85M603.15 1416.25H612.85" stroke="#000" stroke-width="3.3" fill="none"/>
<path d="M648.75 1415.00V1419.50M643.90 1415.00H653.60M643.90 1419.50H653.60" stroke="#000" stroke-width="3.3" fill="none"/>
<path d="M690.00 1408.75V1416.25M685.15 1408.75H694.85M685.15 1416.25H694.85" stroke="#000" stroke-width="3.3" fill="none"/>
<path d="M730.00 1421.25V1428.00M725.15 1421.25H734.85M725.15 1428.00H734.85" stroke="#000" stroke-width="3.3" fill="none"/>
<path d="M770.75 1403.75V1411.25M765.90 1403.75H775.60M765.90 1411.25H775.60" stroke="#000" stroke-width="3.3" fill="none"/>
<path d="M811.25 1420.00V1423.75M806.40 1420.00H816.10M806.40 1423.75H816.10" stroke="#000" stroke-width="3.3" fill="none"/>
<circle cx="567.50" cy="1238.00" r="4.0" fill="none" stroke="#000" stroke-width="1.9"/>
<circle cx="567.50" cy="1248.75" r="4.0" fill="none" stroke="#000" stroke-width="1.9"/>
<circle cx="567.50" cy="1255.75" r="4.0" fill="none" stroke="#000" stroke-width="1.9"/>
<circle cx="599.50" cy="1410.75" r="4.0" fill="none" stroke="#000" stroke-width="1.9"/>
<circle cx="608.00" cy="1412.50" r="4.0" fill="none" stroke="#000" stroke-width="1.9"/>
<circle cx="615.75" cy="1413.75" r="4.0" fill="none" stroke="#000" stroke-width="1.9"/>
<circle cx="638.75" cy="1413.00" r="4.0" fill="none" stroke="#000" stroke-width="1.9"/>
<circle cx="648.75" cy="1417.00" r="4.0" fill="none" stroke="#000" stroke-width="1.9"/>
<circle cx="658.75" cy="1416.25" r="4.0" fill="none" stroke="#000" stroke-width="1.9"/>
<circle cx="682.00" cy="1407.50" r="4.0" fill="none" stroke="#000" stroke-width="1.9"/>
<circle cx="690.00" cy="1413.75" r="4.0" fill="none" stroke="#000" stroke-width="1.9"/>
<circle cx="698.25" cy="1408.75" r="4.0" fill="none" stroke="#000" stroke-width="1.9"/>
<circle cx="721.25" cy="1422.50" r="4.0" fill="none" stroke="#000" stroke-width="1.9"/>
<circle cx="729.50" cy="1422.00" r="4.0" fill="none" stroke="#000" stroke-width="1.9"/>
<circle cx="737.50" cy="1427.50" r="4.0" fill="none" stroke="#000" stroke-width="1.9"/>
<circle cx="770.75" cy="1403.25" r="4.0" fill="none" stroke="#000" stroke-width="1.9"/>
<circle cx="761.75" cy="1410.00" r="4.0" fill="none" stroke="#000" stroke-width="1.9"/>
<circle cx="780.75" cy="1406.25" r="4.0" fill="none" stroke="#000" stroke-width="1.9"/>
<circle cx="800.75" cy="1420.75" r="4.0" fill="none" stroke="#000" stroke-width="1.9"/>
<circle cx="810.75" cy="1419.50" r="4.0" fill="none" stroke="#000" stroke-width="1.9"/>
<circle cx="820.75" cy="1420.75" r="4.0" fill="none" stroke="#000" stroke-width="1.9"/>
<text transform="translate(666.35,1213.50) scale(0.9204,1)" font-size="35.76">CA</text>
<text transform="translate(484.72,1222.05) scale(0.8807,1)" font-size="41.55">1.2</text>
<text transform="translate(485.61,1339.05) scale(0.8603,1)" font-size="41.55">0.6</text>
<text transform="translate(515.64,1461.55) scale(0.8417,1)" font-size="41.55">0</text>
<text transform="translate(612.83,1391.25) scale(0.8388,1)" font-size="29.08">=0.5180</text>
<text transform="translate(592.20,1389.45) skewX(-16)" font-size="27" font-style="italic">p</text>
<path d="M608.75 1398.75L652.00 1398.75" stroke="#000" stroke-width="2.2" fill="none"/>
<text transform="translate(579.30,1717.27) rotate(-90) scale(1.0580,1)" font-size="33.43">25mM Glucose</text>
<text transform="translate(621.20,1694.15) rotate(-90) scale(1.0411,1)" font-size="33.43">1mM Glucose</text>
<text transform="translate(663.10,1752.69) rotate(-90) scale(1.0588,1)" font-size="33.43">1mM Glucose +U</text>
<text transform="translate(705.00,1749.22) rotate(-90) scale(1.0706,1)" font-size="33.43">1mM Glucose + I</text>
<text transform="translate(746.90,1752.18) rotate(-90) scale(1.0542,1)" font-size="33.43">1mM Glucose +A</text>
<text transform="translate(788.80,1752.67) rotate(-90) scale(1.0507,1)" font-size="33.43">1mM Glucose +G</text>
<text transform="translate(830.70,1752.68) rotate(-90) scale(1.0534,1)" font-size="33.43">1mM Glucose +C</text>
</g>
<g><!-- α-KG -->
<rect x="959.05" y="1250.55" width="26.65" height="214.65" fill="#4E81C2" stroke="#071028" stroke-width="2.1"/>
<rect x="1000.30" y="1420.30" width="25.65" height="44.90" fill="#4E81C2" stroke="#071028" stroke-width="2.1"/>
<rect x="1040.55" y="1417.80" width="26.40" height="47.40" fill="#4E81C2" stroke="#071028" stroke-width="2.1"/>
<rect x="1081.05" y="1410.30" width="26.15" height="54.90" fill="#4E81C2" stroke="#071028" stroke-width="2.1"/>
<rect x="1121.80" y="1422.80" width="26.40" height="42.40" fill="#4E81C2" stroke="#071028" stroke-width="2.1"/>
<rect x="1162.80" y="1412.30" width="26.15" height="52.90" fill="#4E81C2" stroke="#071028" stroke-width="2.1"/>
<rect x="1203.55" y="1429.30" width="26.15" height="35.90" fill="#4E81C2" stroke="#071028" stroke-width="2.1"/>
<path d="M953.12 1204.80L953.12 1468.00" stroke="#000" stroke-width="3.5" fill="none"/>
<path d="M946.25 1466.25L1237.00 1466.25" stroke="#000" stroke-width="3.5" fill="none"/>
<path d="M946.25 1205.75L953.12 1205.75" stroke="#000" stroke-width="3.2" fill="none"/>
<path d="M946.25 1335.75L953.12 1335.75" stroke="#000" stroke-width="3.2" fill="none"/>
<path d="M972.50 1214.50V1283.75M967.65 1214.50H977.35M967.65 1283.75H977.35" stroke="#000" stroke-width="3.3" fill="none"/>
<path d="M1013.00 1409.50V1430.00M1008.15 1409.50H1017.85M1008.15 1430.00H1017.85" stroke="#000" stroke-width="3.3" fill="none"/>
<path d="M1054.50 1400.50V1433.00M1049.65 1400.50H1059.35M1049.65 1433.00H1059.35" stroke="#000" stroke-width="3.3" fill="none"/>
<path d="M1094.50 1404.50V1413.75M1089.65 1404.50H1099.35M1089.65 1413.75H1099.35" stroke="#000" stroke-width="3.3" fill="none"/>
<path d="M1135.00 1414.50V1430.00M1130.15 1414.50H1139.85M1130.15 1430.00H1139.85" stroke="#000" stroke-width="3.3" fill="none"/>
<path d="M1175.00 1396.75V1426.25M1170.15 1396.75H1179.85M1170.15 1426.25H1179.85" stroke="#000" stroke-width="3.3" fill="none"/>
<path d="M1216.25 1423.75V1432.00M1211.40 1423.75H1221.10M1211.40 1432.00H1221.10" stroke="#000" stroke-width="3.3" fill="none"/>
<circle cx="978.75" cy="1219.50" r="4.0" fill="none" stroke="#000" stroke-width="1.9"/>
<circle cx="966.75" cy="1256.25" r="4.0" fill="none" stroke="#000" stroke-width="1.9"/>
<circle cx="978.75" cy="1288.00" r="4.0" fill="none" stroke="#000" stroke-width="1.9"/>
<circle cx="1004.50" cy="1415.00" r="4.0" fill="none" stroke="#000" stroke-width="1.9"/>
<circle cx="1020.00" cy="1417.00" r="4.0" fill="none" stroke="#000" stroke-width="1.9"/>
<circle cx="1012.50" cy="1433.25" r="4.0" fill="none" stroke="#000" stroke-width="1.9"/>
<circle cx="1061.25" cy="1404.25" r="4.0" fill="none" stroke="#000" stroke-width="1.9"/>
<circle cx="1049.25" cy="1417.00" r="4.0" fill="none" stroke="#000" stroke-width="1.9"/>
<circle cx="1061.25" cy="1435.50" r="4.0" fill="none" stroke="#000" stroke-width="1.9"/>
<circle cx="1087.00" cy="1406.75" r="4.0" fill="none" stroke="#000" stroke-width="1.9"/>
<circle cx="1102.50" cy="1411.25" r="4.0" fill="none" stroke="#000" stroke-width="1.9"/>
<circle cx="1086.25" cy="1416.25" r="4.0" fill="none" stroke="#000" stroke-width="1.9"/>
<circle cx="1128.25" cy="1417.00" r="4.0" fill="none" stroke="#000" stroke-width="1.9"/>
<circle cx="1143.75" cy="1425.50" r="4.0" fill="none" stroke="#000" stroke-width="1.9"/>
<circle cx="1128.25" cy="1432.50" r="4.0" fill="none" stroke="#000" stroke-width="1.9"/>
<circle cx="1181.25" cy="1402.50" r="4.0" fill="none" stroke="#000" stroke-width="1.9"/>
<circle cx="1169.25" cy="1408.25" r="4.0" fill="none" stroke="#000" stroke-width="1.9"/>
<circle cx="1181.25" cy="1430.50" r="4.0" fill="none" stroke="#000" stroke-width="1.9"/>
<circle cx="1225.00" cy="1425.00" r="4.0" fill="none" stroke="#000" stroke-width="1.9"/>
<circle cx="1207.50" cy="1433.00" r="4.0" fill="none" stroke="#000" stroke-width="1.9"/>
<circle cx="1227.00" cy="1432.00" r="4.0" fill="none" stroke="#000" stroke-width="1.9"/>
<text transform="translate(1051.61,1213.50) scale(0.9239,1)" font-size="35.76">α-KG</text>
<text transform="translate(892.26,1222.80) scale(0.8664,1)" font-size="41.55">1.2</text>
<text transform="translate(892.36,1338.55) scale(0.8603,1)" font-size="41.55">0.6</text>
<text transform="translate(923.74,1462.05) scale(0.7788,1)" font-size="41.55">0</text>
<text transform="translate(1017.32,1382.50) scale(0.8424,1)" font-size="29.08">=0.9993</text>
<text transform="translate(996.70,1380.70) skewX(-16)" font-size="27" font-style="italic">p</text>
<path d="M1010.00 1389.25L1053.75 1389.25" stroke="#000" stroke-width="2.2" fill="none"/>
<text transform="translate(978.80,1717.27) rotate(-90) scale(1.0580,1)" font-size="33.43">25mM Glucose</text>
<text transform="translate(1020.80,1694.15) rotate(-90) scale(1.0411,1)" font-size="33.43">1mM Glucose</text>
<text transform="translate(1062.80,1752.69) rotate(-90) scale(1.0588,1)" font-size="33.43">1mM Glucose +U</text>
<text transform="translate(1104.80,1749.22) rotate(-90) scale(1.0706,1)" font-size="33.43">1mM Glucose + I</text>
<text transform="translate(1146.80,1752.18) rotate(-90) scale(1.0542,1)" font-size="33.43">1mM Glucose +A</text>
<text transform="translate(1188.80,1752.67) rotate(-90) scale(1.0507,1)" font-size="33.43">1mM Glucose +G</text>
<text transform="translate(1230.80,1752.68) rotate(-90) scale(1.0534,1)" font-size="33.43">1mM Glucose +C</text>
</g>
<g><!-- SA -->
<rect x="1356.05" y="1250.55" width="26.65" height="214.65" fill="#4E81C2" stroke="#071028" stroke-width="2.1"/>
<rect x="1397.30" y="1403.55" width="25.90" height="61.65" fill="#4E81C2" stroke="#071028" stroke-width="2.1"/>
<rect x="1437.80" y="1416.55" width="26.15" height="48.65" fill="#4E81C2" stroke="#071028" stroke-width="2.1"/>
<rect x="1478.55" y="1407.30" width="25.90" height="57.90" fill="#4E81C2" stroke="#071028" stroke-width="2.1"/>
<rect x="1519.05" y="1423.05" width="26.15" height="42.15" fill="#4E81C2" stroke="#071028" stroke-width="2.1"/>
<rect x="1559.80" y="1413.05" width="25.90" height="52.15" fill="#4E81C2" stroke="#071028" stroke-width="2.1"/>
<rect x="1600.30" y="1424.80" width="26.15" height="40.40" fill="#4E81C2" stroke="#071028" stroke-width="2.1"/>
<path d="M1349.38 1204.80L1349.38 1468.00" stroke="#000" stroke-width="3.5" fill="none"/>
<path d="M1343.75 1466.25L1633.75 1466.25" stroke="#000" stroke-width="3.5" fill="none"/>
<path d="M1343.75 1205.75L1349.38 1205.75" stroke="#000" stroke-width="3.2" fill="none"/>
<path d="M1343.75 1335.00L1349.38 1335.00" stroke="#000" stroke-width="3.2" fill="none"/>
<path d="M1369.25 1247.50V1251.25M1364.40 1247.50H1374.10M1364.40 1251.25H1374.10" stroke="#000" stroke-width="3.3" fill="none"/>
<path d="M1410.00 1396.25V1410.50M1405.15 1396.25H1414.85M1405.15 1410.50H1414.85" stroke="#000" stroke-width="3.3" fill="none"/>
<path d="M1450.75 1412.50V1418.00M1445.90 1412.50H1455.60M1445.90 1418.00H1455.60" stroke="#000" stroke-width="3.3" fill="none"/>
<path d="M1491.25 1402.50V1410.00M1486.40 1402.50H1496.10M1486.40 1410.00H1496.10" stroke="#000" stroke-width="3.3" fill="none"/>
<path d="M1532.00 1419.50V1424.50M1527.15 1419.50H1536.85M1527.15 1424.50H1536.85" stroke="#000" stroke-width="3.3" fill="none"/>
<path d="M1573.00 1409.50V1414.50M1568.15 1409.50H1577.85M1568.15 1414.50H1577.85" stroke="#000" stroke-width="3.3" fill="none"/>
<path d="M1613.25 1421.25V1425.75M1608.40 1421.25H1618.10M1608.40 1425.75H1618.10" stroke="#000" stroke-width="3.3" fill="none"/>
<circle cx="1360.00" cy="1251.25" r="4.0" fill="none" stroke="#000" stroke-width="1.9"/>
<circle cx="1367.50" cy="1248.75" r="4.0" fill="none" stroke="#000" stroke-width="1.9"/>
<circle cx="1379.50" cy="1250.00" r="4.0" fill="none" stroke="#000" stroke-width="1.9"/>
<circle cx="1409.25" cy="1392.00" r="4.0" fill="none" stroke="#000" stroke-width="1.9"/>
<circle cx="1401.25" cy="1405.00" r="4.0" fill="none" stroke="#000" stroke-width="1.9"/>
<circle cx="1417.00" cy="1405.50" r="4.0" fill="none" stroke="#000" stroke-width="1.9"/>
<circle cx="1442.50" cy="1412.50" r="4.0" fill="none" stroke="#000" stroke-width="1.9"/>
<circle cx="1450.75" cy="1411.75" r="4.0" fill="none" stroke="#000" stroke-width="1.9"/>
<circle cx="1458.75" cy="1416.25" r="4.0" fill="none" stroke="#000" stroke-width="1.9"/>
<circle cx="1498.75" cy="1401.25" r="4.0" fill="none" stroke="#000" stroke-width="1.9"/>
<circle cx="1490.75" cy="1403.75" r="4.0" fill="none" stroke="#000" stroke-width="1.9"/>
<circle cx="1483.00" cy="1407.50" r="4.0" fill="none" stroke="#000" stroke-width="1.9"/>
<circle cx="1523.75" cy="1421.25" r="4.0" fill="none" stroke="#000" stroke-width="1.9"/>
<circle cx="1532.00" cy="1418.75" r="4.0" fill="none" stroke="#000" stroke-width="1.9"/>
<circle cx="1540.75" cy="1420.00" r="4.0" fill="none" stroke="#000" stroke-width="1.9"/>
<circle cx="1564.25" cy="1412.00" r="4.0" fill="none" stroke="#000" stroke-width="1.9"/>
<circle cx="1573.75" cy="1409.50" r="4.0" fill="none" stroke="#000" stroke-width="1.9"/>
<circle cx="1582.50" cy="1411.25" r="4.0" fill="none" stroke="#000" stroke-width="1.9"/>
<circle cx="1603.75" cy="1419.50" r="4.0" fill="none" stroke="#000" stroke-width="1.9"/>
<circle cx="1613.75" cy="1422.50" r="4.0" fill="none" stroke="#000" stroke-width="1.9"/>
<circle cx="1623.75" cy="1422.00" r="4.0" fill="none" stroke="#000" stroke-width="1.9"/>
<text transform="translate(1478.56,1213.50) scale(0.8964,1)" font-size="35.76">SA</text>
<text transform="translate(1284.72,1217.30) scale(0.8807,1)" font-size="41.55">1.2</text>
<text transform="translate(1285.61,1338.30) scale(0.8603,1)" font-size="41.55">0.6</text>
<text transform="translate(1316.18,1461.55) scale(0.8165,1)" font-size="41.55">0</text>
<text transform="translate(1410.31,1372.00) scale(0.8497,1)" font-size="29.08">=0.0073</text>
<text transform="translate(1389.70,1370.20) skewX(-16)" font-size="27" font-style="italic">p</text>
<path d="M1405.50 1380.00L1449.25 1380.00" stroke="#000" stroke-width="2.2" fill="none"/>
<text transform="translate(1380.30,1717.27) rotate(-90) scale(1.0580,1)" font-size="33.43">25mM Glucose</text>
<text transform="translate(1422.10,1694.15) rotate(-90) scale(1.0411,1)" font-size="33.43">1mM Glucose</text>
<text transform="translate(1463.90,1752.69) rotate(-90) scale(1.0588,1)" font-size="33.43">1mM Glucose +U</text>
<text transform="translate(1505.70,1749.22) rotate(-90) scale(1.0706,1)" font-size="33.43">1mM Glucose + I</text>
<text transform="translate(1547.50,1752.18) rotate(-90) scale(1.0542,1)" font-size="33.43">1mM Glucose +A</text>
<text transform="translate(1589.30,1752.67) rotate(-90) scale(1.0507,1)" font-size="33.43">1mM Glucose +G</text>
<text transform="translate(1631.10,1752.68) rotate(-90) scale(1.0534,1)" font-size="33.43">1mM Glucose +C</text>
</g>
<g><!-- MA -->
<rect x="1767.30" y="1250.55" width="26.15" height="214.65" fill="#4E81C2" stroke="#071028" stroke-width="2.1"/>
<rect x="1808.05" y="1424.30" width="25.40" height="40.90" fill="#4E81C2" stroke="#071028" stroke-width="2.1"/>
<rect x="1848.55" y="1448.05" width="26.15" height="17.15" fill="#4E81C2" stroke="#071028" stroke-width="2.1"/>
<rect x="1889.30" y="1439.05" width="25.90" height="26.15" fill="#4E81C2" stroke="#071028" stroke-width="2.1"/>
<rect x="1929.80" y="1448.55" width="26.15" height="16.65" fill="#4E81C2" stroke="#071028" stroke-width="2.1"/>
<rect x="1970.55" y="1448.55" width="25.90" height="16.65" fill="#4E81C2" stroke="#071028" stroke-width="2.1"/>
<rect x="2011.05" y="1451.05" width="26.15" height="14.15" fill="#4E81C2" stroke="#071028" stroke-width="2.1"/>
<path d="M1760.62 1204.80L1760.62 1468.00" stroke="#000" stroke-width="3.5" fill="none"/>
<path d="M1754.50 1466.25L2044.50 1466.25" stroke="#000" stroke-width="3.5" fill="none"/>
<path d="M1754.50 1205.75L1760.62 1205.75" stroke="#000" stroke-width="3.2" fill="none"/>
<path d="M1754.50 1335.75L1760.62 1335.75" stroke="#000" stroke-width="3.2" fill="none"/>
<path d="M1781.25 1243.75V1253.75M1776.40 1243.75H1786.10M1776.40 1253.75H1786.10" stroke="#000" stroke-width="3.3" fill="none"/>
<path d="M1820.75 1400.00V1446.25M1815.90 1400.00H1825.60M1815.90 1446.25H1825.60" stroke="#000" stroke-width="3.3" fill="none"/>
<path d="M1861.50 1444.50V1450.50M1856.65 1444.50H1866.35M1856.65 1450.50H1866.35" stroke="#000" stroke-width="3.3" fill="none"/>
<path d="M1902.00 1435.75V1440.00M1897.15 1435.75H1906.85M1897.15 1440.00H1906.85" stroke="#000" stroke-width="3.3" fill="none"/>
<path d="M1943.25 1445.00V1449.50M1938.40 1445.00H1948.10M1938.40 1449.50H1948.10" stroke="#000" stroke-width="3.3" fill="none"/>
<path d="M1983.25 1444.50V1449.50M1978.40 1444.50H1988.10M1978.40 1449.50H1988.10" stroke="#000" stroke-width="3.3" fill="none"/>
<path d="M2024.00 1448.00V1452.00M2019.15 1448.00H2028.85M2019.15 1452.00H2028.85" stroke="#000" stroke-width="3.3" fill="none"/>
<circle cx="1781.25" cy="1241.25" r="4.0" fill="none" stroke="#000" stroke-width="1.9"/>
<circle cx="1773.25" cy="1252.00" r="4.0" fill="none" stroke="#000" stroke-width="1.9"/>
<circle cx="1789.50" cy="1250.00" r="4.0" fill="none" stroke="#000" stroke-width="1.9"/>
<circle cx="1820.75" cy="1394.50" r="4.0" fill="none" stroke="#000" stroke-width="1.9"/>
<circle cx="1812.75" cy="1432.50" r="4.0" fill="none" stroke="#000" stroke-width="1.9"/>
<circle cx="1824.50" cy="1435.50" r="4.0" fill="none" stroke="#000" stroke-width="1.9"/>
<circle cx="1860.75" cy="1441.25" r="4.0" fill="none" stroke="#000" stroke-width="1.9"/>
<circle cx="1852.75" cy="1445.75" r="4.0" fill="none" stroke="#000" stroke-width="1.9"/>
<circle cx="1868.25" cy="1447.00" r="4.0" fill="none" stroke="#000" stroke-width="1.9"/>
<circle cx="1892.00" cy="1433.75" r="4.0" fill="none" stroke="#000" stroke-width="1.9"/>
<circle cx="1902.00" cy="1433.75" r="4.0" fill="none" stroke="#000" stroke-width="1.9"/>
<circle cx="1912.00" cy="1436.25" r="4.0" fill="none" stroke="#000" stroke-width="1.9"/>
<circle cx="1935.25" cy="1445.75" r="4.0" fill="none" stroke="#000" stroke-width="1.9"/>
<circle cx="1943.75" cy="1443.00" r="4.0" fill="none" stroke="#000" stroke-width="1.9"/>
<circle cx="1952.00" cy="1446.25" r="4.0" fill="none" stroke="#000" stroke-width="1.9"/>
<circle cx="1974.50" cy="1447.00" r="4.0" fill="none" stroke="#000" stroke-width="1.9"/>
<circle cx="1983.25" cy="1443.00" r="4.0" fill="none" stroke="#000" stroke-width="1.9"/>
<circle cx="1992.00" cy="1443.00" r="4.0" fill="none" stroke="#000" stroke-width="1.9"/>
<circle cx="2014.50" cy="1447.50" r="4.0" fill="none" stroke="#000" stroke-width="1.9"/>
<circle cx="2025.00" cy="1448.00" r="4.0" fill="none" stroke="#000" stroke-width="1.9"/>
<circle cx="2035.25" cy="1446.25" r="4.0" fill="none" stroke="#000" stroke-width="1.9"/>
<text transform="translate(1882.28,1213.50) scale(0.9283,1)" font-size="35.76">MA</text>
<text transform="translate(1695.39,1221.55) scale(0.9045,1)" font-size="41.55">1.2</text>
<text transform="translate(1696.06,1339.05) scale(0.8879,1)" font-size="41.55">0.6</text>
<text transform="translate(1726.83,1462.05) scale(0.8793,1)" font-size="41.55">0</text>
<text transform="translate(1818.09,1377.50) scale(0.8343,1)" font-size="29.08">=0.0624</text>
<text transform="translate(1797.45,1375.70) skewX(-16)" font-size="27" font-style="italic">p</text>
<path d="M1817.75 1382.50L1861.25 1382.50" stroke="#000" stroke-width="2.2" fill="none"/>
<text transform="translate(1790.30,1717.27) rotate(-90) scale(1.0580,1)" font-size="33.43">25mM Glucose</text>
<text transform="translate(1832.10,1694.15) rotate(-90) scale(1.0411,1)" font-size="33.43">1mM Glucose</text>
<text transform="translate(1873.90,1752.69) rotate(-90) scale(1.0588,1)" font-size="33.43">1mM Glucose +U</text>
<text transform="translate(1915.70,1749.22) rotate(-90) scale(1.0706,1)" font-size="33.43">1mM Glucose + I</text>
<text transform="translate(1957.50,1752.18) rotate(-90) scale(1.0542,1)" font-size="33.43">1mM Glucose +A</text>
<text transform="translate(1999.30,1752.67) rotate(-90) scale(1.0507,1)" font-size="33.43">1mM Glucose +G</text>
<text transform="translate(2041.10,1752.68) rotate(-90) scale(1.0534,1)" font-size="33.43">1mM Glucose +C</text>
</g>
<g><!-- R5P -->
<rect x="173.05" y="1916.05" width="26.40" height="213.65" fill="#4E81C2" stroke="#071028" stroke-width="2.1"/>
<rect x="214.05" y="2097.30" width="25.65" height="32.40" fill="#4E81C2" stroke="#071028" stroke-width="2.1"/>
<rect x="254.80" y="2061.55" width="26.15" height="68.15" fill="#4E81C2" stroke="#071028" stroke-width="2.1"/>
<rect x="295.30" y="2080.30" width="25.65" height="49.40" fill="#4E81C2" stroke="#071028" stroke-width="2.1"/>
<rect x="336.05" y="2098.55" width="26.15" height="31.15" fill="#4E81C2" stroke="#071028" stroke-width="2.1"/>
<rect x="376.80" y="2092.30" width="25.90" height="37.40" fill="#4E81C2" stroke="#071028" stroke-width="2.1"/>
<rect x="417.30" y="2081.05" width="26.15" height="48.65" fill="#4E81C2" stroke="#071028" stroke-width="2.1"/>
<path d="M166.38 1869.05L166.38 2132.50" stroke="#000" stroke-width="3.5" fill="none"/>
<path d="M160.75 2130.75L450.75 2130.75" stroke="#000" stroke-width="3.5" fill="none"/>
<path d="M160.75 1870.00L166.38 1870.00" stroke="#000" stroke-width="3.2" fill="none"/>
<path d="M160.75 2001.25L166.38 2001.25" stroke="#000" stroke-width="3.2" fill="none"/>
<path d="M186.75 1903.75V1927.50M181.90 1903.75H191.60M181.90 1927.50H191.60" stroke="#000" stroke-width="3.3" fill="none"/>
<path d="M226.75 2091.25V2102.00M221.90 2091.25H231.60M221.90 2102.00H231.60" stroke="#000" stroke-width="3.3" fill="none"/>
<path d="M267.50 2055.00V2066.25M262.65 2055.00H272.35M262.65 2066.25H272.35" stroke="#000" stroke-width="3.3" fill="none"/>
<path d="M308.75 2072.00V2087.50M303.90 2072.00H313.60M303.90 2087.50H313.60" stroke="#000" stroke-width="3.3" fill="none"/>
<path d="M349.25 2094.50V2100.00M344.40 2094.50H354.10M344.40 2100.00H354.10" stroke="#000" stroke-width="3.3" fill="none"/>
<path d="M390.00 2088.75V2094.50M385.15 2088.75H394.85M385.15 2094.50H394.85" stroke="#000" stroke-width="3.3" fill="none"/>
<path d="M430.75 2076.25V2080.75M425.90 2076.25H435.60M425.90 2080.75H435.60" stroke="#000" stroke-width="3.3" fill="none"/>
<circle cx="181.75" cy="1905.75" r="4.0" fill="none" stroke="#000" stroke-width="1.9"/>
<circle cx="192.50" cy="1915.00" r="4.0" fill="none" stroke="#000" stroke-width="1.9"/>
<circle cx="185.00" cy="1925.75" r="4.0" fill="none" stroke="#000" stroke-width="1.9"/>
<circle cx="226.75" cy="2089.50" r="4.0" fill="none" stroke="#000" stroke-width="1.9"/>
<circle cx="218.25" cy="2095.75" r="4.0" fill="none" stroke="#000" stroke-width="1.9"/>
<circle cx="233.75" cy="2098.25" r="4.0" fill="none" stroke="#000" stroke-width="1.9"/>
<circle cx="260.00" cy="2055.00" r="4.0" fill="none" stroke="#000" stroke-width="1.9"/>
<circle cx="275.00" cy="2055.75" r="4.0" fill="none" stroke="#000" stroke-width="1.9"/>
<circle cx="267.00" cy="2065.00" r="4.0" fill="none" stroke="#000" stroke-width="1.9"/>
<circle cx="313.00" cy="2071.25" r="4.0" fill="none" stroke="#000" stroke-width="1.9"/>
<circle cx="301.25" cy="2077.50" r="4.0" fill="none" stroke="#000" stroke-width="1.9"/>
<circle cx="313.00" cy="2085.00" r="4.0" fill="none" stroke="#000" stroke-width="1.9"/>
<circle cx="338.25" cy="2093.75" r="4.0" fill="none" stroke="#000" stroke-width="1.9"/>
<circle cx="348.25" cy="2097.00" r="4.0" fill="none" stroke="#000" stroke-width="1.9"/>
<circle cx="358.25" cy="2095.00" r="4.0" fill="none" stroke="#000" stroke-width="1.9"/>
<circle cx="391.25" cy="2086.25" r="4.0" fill="none" stroke="#000" stroke-width="1.9"/>
<circle cx="380.75" cy="2091.25" r="4.0" fill="none" stroke="#000" stroke-width="1.9"/>
<circle cx="399.50" cy="2091.25" r="4.0" fill="none" stroke="#000" stroke-width="1.9"/>
<circle cx="420.75" cy="2080.00" r="4.0" fill="none" stroke="#000" stroke-width="1.9"/>
<circle cx="430.75" cy="2076.25" r="4.0" fill="none" stroke="#000" stroke-width="1.9"/>
<circle cx="440.75" cy="2078.00" r="4.0" fill="none" stroke="#000" stroke-width="1.9"/>
<text transform="translate(288.50,1856.00) scale(0.9382,1)" font-size="35.76">R5P</text>
<text transform="translate(101.76,1887.80) scale(0.8664,1)" font-size="41.55">1.2</text>
<text transform="translate(101.08,2007.30) scale(0.8741,1)" font-size="41.55">0.6</text>
<text transform="translate(132.43,2129.05) scale(0.8165,1)" font-size="41.55">0</text>
<text transform="translate(226.60,2037.50) scale(0.8238,1)" font-size="29.08">=3e-6</text>
<text transform="translate(205.95,2035.70) skewX(-16)" font-size="27" font-style="italic">p</text>
<path d="M222.50 2041.25L266.25 2041.25" stroke="#000" stroke-width="2.2" fill="none"/>
<text transform="translate(189.30,2382.27) rotate(-90) scale(1.0580,1)" font-size="33.43">25mM Glucose</text>
<text transform="translate(231.10,2359.15) rotate(-90) scale(1.0411,1)" font-size="33.43">1mM Glucose</text>
<text transform="translate(272.90,2417.69) rotate(-90) scale(1.0588,1)" font-size="33.43">1mM Glucose +U</text>
<text transform="translate(314.70,2414.22) rotate(-90) scale(1.0706,1)" font-size="33.43">1mM Glucose + I</text>
<text transform="translate(356.50,2417.18) rotate(-90) scale(1.0542,1)" font-size="33.43">1mM Glucose +A</text>
<text transform="translate(398.30,2417.67) rotate(-90) scale(1.0507,1)" font-size="33.43">1mM Glucose +G</text>
<text transform="translate(440.10,2417.68) rotate(-90) scale(1.0534,1)" font-size="33.43">1mM Glucose +C</text>
</g>
<g><!-- Ru5P -->
<rect x="554.30" y="1946.55" width="26.40" height="183.15" fill="#4E81C2" stroke="#071028" stroke-width="2.1"/>
<rect x="594.80" y="2094.30" width="26.15" height="35.40" fill="#4E81C2" stroke="#071028" stroke-width="2.1"/>
<rect x="635.55" y="2057.80" width="26.40" height="71.90" fill="#4E81C2" stroke="#071028" stroke-width="2.1"/>
<rect x="676.05" y="2075.55" width="26.15" height="54.15" fill="#4E81C2" stroke="#071028" stroke-width="2.1"/>
<rect x="716.80" y="2106.05" width="26.40" height="23.65" fill="#4E81C2" stroke="#071028" stroke-width="2.1"/>
<rect x="757.30" y="2088.05" width="26.15" height="41.65" fill="#4E81C2" stroke="#071028" stroke-width="2.1"/>
<rect x="798.05" y="2086.80" width="26.40" height="42.90" fill="#4E81C2" stroke="#071028" stroke-width="2.1"/>
<path d="M547.62 1869.80L547.62 2132.50" stroke="#000" stroke-width="3.5" fill="none"/>
<path d="M541.25 2130.75L826.25 2130.75" stroke="#000" stroke-width="3.5" fill="none"/>
<path d="M541.25 1870.75L547.62 1870.75" stroke="#000" stroke-width="3.2" fill="none"/>
<path d="M541.25 2001.25L547.62 2001.25" stroke="#000" stroke-width="3.2" fill="none"/>
<path d="M567.50 1902.50V1988.75M562.65 1902.50H572.35M562.65 1988.75H572.35" stroke="#000" stroke-width="3.3" fill="none"/>
<path d="M608.00 2090.75V2097.00M603.15 2090.75H612.85M603.15 2097.00H612.85" stroke="#000" stroke-width="3.3" fill="none"/>
<path d="M649.25 2047.00V2067.50M644.40 2047.00H654.10M644.40 2067.50H654.10" stroke="#000" stroke-width="3.3" fill="none"/>
<path d="M689.25 2065.00V2085.00M684.40 2065.00H694.10M684.40 2085.00H694.10" stroke="#000" stroke-width="3.3" fill="none"/>
<path d="M730.00 2098.25V2111.25M725.15 2098.25H734.85M725.15 2111.25H734.85" stroke="#000" stroke-width="3.3" fill="none"/>
<path d="M770.75 2080.00V2095.00M765.90 2080.00H775.60M765.90 2095.00H775.60" stroke="#000" stroke-width="3.3" fill="none"/>
<path d="M811.25 2065.75V2105.00M806.40 2065.75H816.10M806.40 2105.00H816.10" stroke="#000" stroke-width="3.3" fill="none"/>
<circle cx="565.75" cy="1883.75" r="4.0" fill="none" stroke="#000" stroke-width="1.9"/>
<circle cx="558.00" cy="1910.50" r="4.0" fill="none" stroke="#000" stroke-width="1.9"/>
<circle cx="574.25" cy="1978.25" r="4.0" fill="none" stroke="#000" stroke-width="1.9"/>
<circle cx="606.25" cy="2088.25" r="4.0" fill="none" stroke="#000" stroke-width="1.9"/>
<circle cx="618.75" cy="2091.25" r="4.0" fill="none" stroke="#000" stroke-width="1.9"/>
<circle cx="598.00" cy="2097.50" r="4.0" fill="none" stroke="#000" stroke-width="1.9"/>
<circle cx="648.25" cy="2041.25" r="4.0" fill="none" stroke="#000" stroke-width="1.9"/>
<circle cx="643.75" cy="2049.25" r="4.0" fill="none" stroke="#000" stroke-width="1.9"/>
<circle cx="652.50" cy="2063.75" r="4.0" fill="none" stroke="#000" stroke-width="1.9"/>
<circle cx="696.25" cy="2063.75" r="4.0" fill="none" stroke="#000" stroke-width="1.9"/>
<circle cx="680.00" cy="2067.00" r="4.0" fill="none" stroke="#000" stroke-width="1.9"/>
<circle cx="688.25" cy="2084.50" r="4.0" fill="none" stroke="#000" stroke-width="1.9"/>
<circle cx="732.50" cy="2096.75" r="4.0" fill="none" stroke="#000" stroke-width="1.9"/>
<circle cx="721.25" cy="2104.50" r="4.0" fill="none" stroke="#000" stroke-width="1.9"/>
<circle cx="737.50" cy="2112.50" r="4.0" fill="none" stroke="#000" stroke-width="1.9"/>
<circle cx="778.25" cy="2077.00" r="4.0" fill="none" stroke="#000" stroke-width="1.9"/>
<circle cx="762.50" cy="2084.50" r="4.0" fill="none" stroke="#000" stroke-width="1.9"/>
<circle cx="778.25" cy="2093.00" r="4.0" fill="none" stroke="#000" stroke-width="1.9"/>
<circle cx="803.25" cy="2070.50" r="4.0" fill="none" stroke="#000" stroke-width="1.9"/>
<circle cx="819.50" cy="2070.50" r="4.0" fill="none" stroke="#000" stroke-width="1.9"/>
<circle cx="811.25" cy="2108.00" r="4.0" fill="none" stroke="#000" stroke-width="1.9"/>
<text transform="translate(644.84,1856.00) scale(0.9068,1)" font-size="35.76">Ru5P</text>
<text transform="translate(481.01,1891.55) scale(0.8663,1)" font-size="41.55">1.4</text>
<text transform="translate(481.15,2008.30) scale(0.8325,1)" font-size="41.55">0.7</text>
<text transform="translate(508.62,2129.05) scale(0.8542,1)" font-size="41.55">0</text>
<text transform="translate(605.34,2023.75) scale(0.8344,1)" font-size="29.08">=0.0092</text>
<text transform="translate(584.70,2021.95) skewX(-16)" font-size="27" font-style="italic">p</text>
<path d="M608.75 2028.00L652.00 2028.00" stroke="#000" stroke-width="2.2" fill="none"/>
<text transform="translate(574.30,2382.27) rotate(-90) scale(1.0580,1)" font-size="33.43">25mM Glucose</text>
<text transform="translate(616.20,2359.15) rotate(-90) scale(1.0411,1)" font-size="33.43">1mM Glucose</text>
<text transform="translate(658.10,2417.69) rotate(-90) scale(1.0588,1)" font-size="33.43">1mM Glucose +U</text>
<text transform="translate(700.00,2414.22) rotate(-90) scale(1.0706,1)" font-size="33.43">1mM Glucose + I</text>
<text transform="translate(741.90,2417.18) rotate(-90) scale(1.0542,1)" font-size="33.43">1mM Glucose +A</text>
<text transform="translate(783.80,2417.67) rotate(-90) scale(1.0507,1)" font-size="33.43">1mM Glucose +G</text>
<text transform="translate(825.70,2417.68) rotate(-90) scale(1.0534,1)" font-size="33.43">1mM Glucose +C</text>
</g>
<g><!-- Xu5P -->
<rect x="959.05" y="1916.80" width="26.65" height="212.90" fill="#4E81C2" stroke="#071028" stroke-width="2.1"/>
<rect x="1000.30" y="2099.80" width="25.65" height="29.90" fill="#4E81C2" stroke="#071028" stroke-width="2.1"/>
<rect x="1040.55" y="2065.55" width="26.40" height="64.15" fill="#4E81C2" stroke="#071028" stroke-width="2.1"/>
<rect x="1081.05" y="2088.55" width="26.15" height="41.15" fill="#4E81C2" stroke="#071028" stroke-width="2.1"/>
<rect x="1121.80" y="2104.80" width="26.40" height="24.90" fill="#4E81C2" stroke="#071028" stroke-width="2.1"/>
<rect x="1162.80" y="2094.30" width="26.15" height="35.40" fill="#4E81C2" stroke="#071028" stroke-width="2.1"/>
<rect x="1203.55" y="2085.55" width="26.15" height="44.15" fill="#4E81C2" stroke="#071028" stroke-width="2.1"/>
<path d="M953.12 1872.30L953.12 2132.50" stroke="#000" stroke-width="3.5" fill="none"/>
<path d="M946.25 2130.75L1237.00 2130.75" stroke="#000" stroke-width="3.5" fill="none"/>
<path d="M946.25 1873.25L953.12 1873.25" stroke="#000" stroke-width="3.2" fill="none"/>
<path d="M946.25 2002.00L953.12 2002.00" stroke="#000" stroke-width="3.2" fill="none"/>
<path d="M972.50 1912.00V1919.50M967.65 1912.00H977.35M967.65 1919.50H977.35" stroke="#000" stroke-width="3.3" fill="none"/>
<path d="M1013.00 2093.75V2105.00M1008.15 2093.75H1017.85M1008.15 2105.00H1017.85" stroke="#000" stroke-width="3.3" fill="none"/>
<path d="M1054.50 2053.75V2077.50M1049.65 2053.75H1059.35M1049.65 2077.50H1059.35" stroke="#000" stroke-width="3.3" fill="none"/>
<path d="M1095.00 2082.50V2092.50M1090.15 2082.50H1099.85M1090.15 2092.50H1099.85" stroke="#000" stroke-width="3.3" fill="none"/>
<path d="M1135.00 2100.75V2105.00M1130.15 2100.75H1139.85M1130.15 2105.00H1139.85" stroke="#000" stroke-width="3.3" fill="none"/>
<path d="M1175.00 2088.75V2097.50M1170.15 2088.75H1179.85M1170.15 2097.50H1179.85" stroke="#000" stroke-width="3.3" fill="none"/>
<path d="M1216.75 2082.50V2087.00M1211.90 2082.50H1221.60M1211.90 2087.00H1221.60" stroke="#000" stroke-width="3.3" fill="none"/>
<circle cx="963.75" cy="1915.00" r="4.0" fill="none" stroke="#000" stroke-width="1.9"/>
<circle cx="980.00" cy="1916.25" r="4.0" fill="none" stroke="#000" stroke-width="1.9"/>
<circle cx="971.25" cy="1922.50" r="4.0" fill="none" stroke="#000" stroke-width="1.9"/>
<circle cx="1012.50" cy="2093.25" r="4.0" fill="none" stroke="#000" stroke-width="1.9"/>
<circle cx="1004.25" cy="2103.75" r="4.0" fill="none" stroke="#000" stroke-width="1.9"/>
<circle cx="1021.25" cy="2105.00" r="4.0" fill="none" stroke="#000" stroke-width="1.9"/>
<circle cx="1053.75" cy="2051.25" r="4.0" fill="none" stroke="#000" stroke-width="1.9"/>
<circle cx="1045.75" cy="2060.00" r="4.0" fill="none" stroke="#000" stroke-width="1.9"/>
<circle cx="1058.75" cy="2070.00" r="4.0" fill="none" stroke="#000" stroke-width="1.9"/>
<circle cx="1087.00" cy="2084.50" r="4.0" fill="none" stroke="#000" stroke-width="1.9"/>
<circle cx="1103.25" cy="2084.50" r="4.0" fill="none" stroke="#000" stroke-width="1.9"/>
<circle cx="1095.00" cy="2091.25" r="4.0" fill="none" stroke="#000" stroke-width="1.9"/>
<circle cx="1134.50" cy="2098.00" r="4.0" fill="none" stroke="#000" stroke-width="1.9"/>
<circle cx="1124.50" cy="2103.75" r="4.0" fill="none" stroke="#000" stroke-width="1.9"/>
<circle cx="1145.00" cy="2102.00" r="4.0" fill="none" stroke="#000" stroke-width="1.9"/>
<circle cx="1166.25" cy="2088.25" r="4.0" fill="none" stroke="#000" stroke-width="1.9"/>
<circle cx="1182.50" cy="2092.50" r="4.0" fill="none" stroke="#000" stroke-width="1.9"/>
<circle cx="1174.25" cy="2096.25" r="4.0" fill="none" stroke="#000" stroke-width="1.9"/>
<circle cx="1207.50" cy="2080.00" r="4.0" fill="none" stroke="#000" stroke-width="1.9"/>
<circle cx="1216.75" cy="2085.00" r="4.0" fill="none" stroke="#000" stroke-width="1.9"/>
<circle cx="1227.50" cy="2083.75" r="4.0" fill="none" stroke="#000" stroke-width="1.9"/>
<text transform="translate(1059.28,1856.00) scale(0.9138,1)" font-size="35.76">Xu5P</text>
<text transform="translate(892.75,1888.55) scale(0.8712,1)" font-size="41.55">1.2</text>
<text transform="translate(892.36,2002.30) scale(0.8603,1)" font-size="41.55">0.6</text>
<text transform="translate(923.74,2126.55) scale(0.7788,1)" font-size="41.55">0</text>
<text transform="translate(1016.60,2037.00) scale(0.8231,1)" font-size="29.08">=2e-5</text>
<text transform="translate(995.95,2035.20) skewX(-16)" font-size="27" font-style="italic">p</text>
<path d="M1010.00 2040.75L1053.75 2040.75" stroke="#000" stroke-width="2.2" fill="none"/>
<text transform="translate(978.30,2382.27) rotate(-90) scale(1.0580,1)" font-size="33.43">25mM Glucose</text>
<text transform="translate(1020.20,2359.15) rotate(-90) scale(1.0411,1)" font-size="33.43">1mM Glucose</text>
<text transform="translate(1062.10,2417.69) rotate(-90) scale(1.0588,1)" font-size="33.43">1mM Glucose +U</text>
<text transform="translate(1104.00,2414.22) rotate(-90) scale(1.0706,1)" font-size="33.43">1mM Glucose + I</text>
<text transform="translate(1145.90,2417.18) rotate(-90) scale(1.0542,1)" font-size="33.43">1mM Glucose +A</text>
<text transform="translate(1187.80,2417.67) rotate(-90) scale(1.0507,1)" font-size="33.43">1mM Glucose +G</text>
<text transform="translate(1229.70,2417.68) rotate(-90) scale(1.0534,1)" font-size="33.43">1mM Glucose +C</text>
</g>
<g><!-- SBP -->
<rect x="1356.05" y="1916.05" width="26.65" height="214.15" fill="#4E81C2" stroke="#071028" stroke-width="2.1"/>
<rect x="1397.30" y="2086.55" width="25.90" height="43.65" fill="#4E81C2" stroke="#071028" stroke-width="2.1"/>
<rect x="1437.80" y="2012.80" width="26.15" height="117.40" fill="#4E81C2" stroke="#071028" stroke-width="2.1"/>
<rect x="1478.55" y="2070.55" width="25.90" height="59.65" fill="#4E81C2" stroke="#071028" stroke-width="2.1"/>
<rect x="1519.05" y="2085.55" width="26.15" height="44.65" fill="#4E81C2" stroke="#071028" stroke-width="2.1"/>
<rect x="1559.80" y="2056.05" width="25.90" height="74.15" fill="#4E81C2" stroke="#071028" stroke-width="2.1"/>
<rect x="1600.30" y="2080.30" width="26.15" height="49.90" fill="#4E81C2" stroke="#071028" stroke-width="2.1"/>
<path d="M1349.38 1869.30L1349.38 2133.00" stroke="#000" stroke-width="3.5" fill="none"/>
<path d="M1343.75 2131.25L1633.75 2131.25" stroke="#000" stroke-width="3.5" fill="none"/>
<path d="M1343.75 1870.25L1349.38 1870.25" stroke="#000" stroke-width="3.2" fill="none"/>
<path d="M1343.75 2001.25L1349.38 2001.25" stroke="#000" stroke-width="3.2" fill="none"/>
<path d="M1370.00 1890.75V1937.50M1365.15 1890.75H1374.85M1365.15 1937.50H1374.85" stroke="#000" stroke-width="3.3" fill="none"/>
<path d="M1410.00 2080.00V2092.00M1405.15 2080.00H1414.85M1405.15 2092.00H1414.85" stroke="#000" stroke-width="3.3" fill="none"/>
<path d="M1450.75 2010.00V2013.75M1445.90 2010.00H1455.60M1445.90 2013.75H1455.60" stroke="#000" stroke-width="3.3" fill="none"/>
<path d="M1491.25 2058.75V2080.75M1486.40 2058.75H1496.10M1486.40 2080.75H1496.10" stroke="#000" stroke-width="3.3" fill="none"/>
<path d="M1532.50 2081.25V2087.50M1527.65 2081.25H1537.35M1527.65 2087.50H1537.35" stroke="#000" stroke-width="3.3" fill="none"/>
<path d="M1572.50 2047.00V2063.25M1567.65 2047.00H1577.35M1567.65 2063.25H1577.35" stroke="#000" stroke-width="3.3" fill="none"/>
<path d="M1613.75 2068.25V2090.00M1608.90 2068.25H1618.60M1608.90 2090.00H1618.60" stroke="#000" stroke-width="3.3" fill="none"/>
<circle cx="1360.00" cy="1891.25" r="4.0" fill="none" stroke="#000" stroke-width="1.9"/>
<circle cx="1360.00" cy="1931.25" r="4.0" fill="none" stroke="#000" stroke-width="1.9"/>
<circle cx="1376.25" cy="1930.50" r="4.0" fill="none" stroke="#000" stroke-width="1.9"/>
<circle cx="1410.00" cy="2078.75" r="4.0" fill="none" stroke="#000" stroke-width="1.9"/>
<circle cx="1402.00" cy="2090.00" r="4.0" fill="none" stroke="#000" stroke-width="1.9"/>
<circle cx="1418.75" cy="2088.75" r="4.0" fill="none" stroke="#000" stroke-width="1.9"/>
<circle cx="1442.50" cy="2014.25" r="4.0" fill="none" stroke="#000" stroke-width="1.9"/>
<circle cx="1450.75" cy="2013.25" r="4.0" fill="none" stroke="#000" stroke-width="1.9"/>
<circle cx="1458.75" cy="2014.25" r="4.0" fill="none" stroke="#000" stroke-width="1.9"/>
<circle cx="1497.50" cy="2058.75" r="4.0" fill="none" stroke="#000" stroke-width="1.9"/>
<circle cx="1484.25" cy="2066.25" r="4.0" fill="none" stroke="#000" stroke-width="1.9"/>
<circle cx="1492.00" cy="2082.00" r="4.0" fill="none" stroke="#000" stroke-width="1.9"/>
<circle cx="1533.25" cy="2080.00" r="4.0" fill="none" stroke="#000" stroke-width="1.9"/>
<circle cx="1524.50" cy="2087.50" r="4.0" fill="none" stroke="#000" stroke-width="1.9"/>
<circle cx="1541.25" cy="2087.50" r="4.0" fill="none" stroke="#000" stroke-width="1.9"/>
<circle cx="1580.00" cy="2047.00" r="4.0" fill="none" stroke="#000" stroke-width="1.9"/>
<circle cx="1562.50" cy="2057.00" r="4.0" fill="none" stroke="#000" stroke-width="1.9"/>
<circle cx="1580.00" cy="2063.75" r="4.0" fill="none" stroke="#000" stroke-width="1.9"/>
<circle cx="1603.75" cy="2070.50" r="4.0" fill="none" stroke="#000" stroke-width="1.9"/>
<circle cx="1620.75" cy="2078.25" r="4.0" fill="none" stroke="#000" stroke-width="1.9"/>
<circle cx="1609.25" cy="2090.00" r="4.0" fill="none" stroke="#000" stroke-width="1.9"/>
<text transform="translate(1457.27,1856.00) scale(0.9181,1)" font-size="35.76">SBP</text>
<text transform="translate(1284.72,1887.80) scale(0.8807,1)" font-size="41.55">1.2</text>
<text transform="translate(1285.61,2007.80) scale(0.8603,1)" font-size="41.55">0.6</text>
<text transform="translate(1316.18,2132.80) scale(0.8165,1)" font-size="41.55">0</text>
<text transform="translate(1409.10,1993.75) scale(0.8261,1)" font-size="29.08">=4e-7</text>
<text transform="translate(1388.45,1991.95) skewX(-16)" font-size="27" font-style="italic">p</text>
<path d="M1405.50 1997.50L1449.25 1997.50" stroke="#000" stroke-width="2.2" fill="none"/>
<text transform="translate(1374.30,2382.27) rotate(-90) scale(1.0580,1)" font-size="33.43">25mM Glucose</text>
<text transform="translate(1416.20,2359.15) rotate(-90) scale(1.0411,1)" font-size="33.43">1mM Glucose</text>
<text transform="translate(1458.10,2417.69) rotate(-90) scale(1.0588,1)" font-size="33.43">1mM Glucose +U</text>
<text transform="translate(1500.00,2414.22) rotate(-90) scale(1.0706,1)" font-size="33.43">1mM Glucose + I</text>
<text transform="translate(1541.90,2417.18) rotate(-90) scale(1.0542,1)" font-size="33.43">1mM Glucose +A</text>
<text transform="translate(1583.80,2417.67) rotate(-90) scale(1.0507,1)" font-size="33.43">1mM Glucose +G</text>
<text transform="translate(1625.70,2417.68) rotate(-90) scale(1.0534,1)" font-size="33.43">1mM Glucose +C</text>
</g>
<text transform="translate(1.39,508.00) scale(0.9637,1)" font-size="52.00">b</text>
<text transform="translate(1025.76,495.50) scale(0.9202,1)" font-size="41.98">14837T</text>
<text transform="translate(993.21,523.30) scale(0.9672,1)" font-size="29.80">(1mM Glucose )</text>
<text transform="translate(52.90,1686.14) rotate(-90) scale(1.1196,1)" font-size="31.72">relative concentration in cells (fold)</text>
<text transform="translate(1.81,29.60) scale(0.8420,1)" font-size="53.50">a</text>
<text transform="translate(339.73,28.00) scale(0.8385,1)" font-size="41.98">14837T</text>
<rect x="420.30" y="0.00" width="38.70" height="2.50" fill="#000"/>
<text transform="translate(291.22,62.10) scale(0.9713,1)" font-size="29.51">(1mM Glucose )</text>
<text transform="translate(27.10,314.13) rotate(-90) scale(1.1031,1)" font-size="32.00">increase in cell</text>
<text transform="translate(59.50,312.87) rotate(-90) scale(1.1084,1)" font-size="32.00">proliferation(%)</text>
<rect x="167.00" y="113.30" width="41.30" height="232.50" fill="#363636" stroke="#000" stroke-width="2.0"/>
<rect x="233.50" y="331.50" width="40.00" height="14.30" fill="#E7E7E7" stroke="#000" stroke-width="2.0"/>
<rect x="299.75" y="211.75" width="40.00" height="134.05" fill="#70AD47" stroke="#000" stroke-width="2.0"/>
<rect x="366.00" y="306.00" width="40.00" height="39.80" fill="#FFC000" stroke="#000" stroke-width="2.0"/>
<rect x="432.25" y="282.25" width="40.00" height="63.55" fill="#C55A11" stroke="#000" stroke-width="2.0"/>
<rect x="498.00" y="293.50" width="40.50" height="52.30" fill="#5B9BD5" stroke="#000" stroke-width="2.0"/>
<rect x="563.50" y="274.25" width="41.25" height="71.55" fill="#F19EC4" stroke="#000" stroke-width="2.0"/>
<path d="M153.70 63.00L153.70 348.55" stroke="#000" stroke-width="3.5" fill="none"/>
<path d="M147.80 346.80L617.50 346.80" stroke="#000" stroke-width="3.5" fill="none"/>
<path d="M147.80 299.67L153.70 299.67" stroke="#000" stroke-width="3.3" fill="none"/>
<path d="M147.80 252.54L153.70 252.54" stroke="#000" stroke-width="3.3" fill="none"/>
<path d="M147.80 205.41L153.70 205.41" stroke="#000" stroke-width="3.3" fill="none"/>
<path d="M147.80 158.28L153.70 158.28" stroke="#000" stroke-width="3.3" fill="none"/>
<path d="M147.80 111.15L153.70 111.15" stroke="#000" stroke-width="3.3" fill="none"/>
<path d="M147.80 64.02L153.70 64.02" stroke="#000" stroke-width="3.3" fill="none"/>
<text transform="translate(86.59,80.10) scale(0.8964,1)" font-size="35.39">300</text>
<text transform="translate(86.20,126.30) scale(0.9032,1)" font-size="35.39">250</text>
<text transform="translate(86.20,171.60) scale(0.9032,1)" font-size="35.39">200</text>
<text transform="translate(85.33,217.40) scale(0.9183,1)" font-size="35.39">150</text>
<text transform="translate(85.33,262.50) scale(0.9183,1)" font-size="35.39">100</text>
<text transform="translate(103.82,309.10) scale(0.9074,1)" font-size="35.39">50</text>
<text transform="translate(121.00,353.40) scale(0.9439,1)" font-size="35.39">0</text>
<path d="M187.50 82.00V144.20M182.80 82.00H192.20M182.80 144.20H192.20" stroke="#000" stroke-width="3.2" fill="none"/>
<path d="M253.75 321.25V339.25M249.05 321.25H258.45M249.05 339.25H258.45" stroke="#000" stroke-width="3.2" fill="none"/>
<path d="M319.50 200.00V224.50M314.80 200.00H324.20M314.80 224.50H324.20" stroke="#000" stroke-width="3.2" fill="none"/>
<path d="M386.25 299.50V308.75M381.55 299.50H390.95M381.55 308.75H390.95" stroke="#000" stroke-width="3.2" fill="none"/>
<path d="M452.50 262.50V300.00M447.80 262.50H457.20M447.80 300.00H457.20" stroke="#000" stroke-width="3.2" fill="none"/>
<path d="M518.00 283.75V303.75M513.30 283.75H522.70M513.30 303.75H522.70" stroke="#000" stroke-width="3.2" fill="none"/>
<path d="M584.25 248.75V298.75M579.55 248.75H588.95M579.55 298.75H588.95" stroke="#000" stroke-width="3.2" fill="none"/>
<circle cx="188.50" cy="69.40" r="4.9" fill="none" stroke="#000" stroke-width="2.1"/>
<circle cx="180.00" cy="116.20" r="4.9" fill="none" stroke="#000" stroke-width="2.1"/>
<circle cx="196.60" cy="127.60" r="4.9" fill="none" stroke="#000" stroke-width="2.1"/>
<circle cx="180.50" cy="138.90" r="4.9" fill="none" stroke="#000" stroke-width="2.1"/>
<circle cx="246.25" cy="320.00" r="4.9" fill="none" stroke="#000" stroke-width="2.1"/>
<circle cx="262.50" cy="330.75" r="4.9" fill="none" stroke="#000" stroke-width="2.1"/>
<circle cx="238.25" cy="336.25" r="4.9" fill="none" stroke="#000" stroke-width="2.1"/>
<circle cx="271.25" cy="340.00" r="4.9" fill="none" stroke="#000" stroke-width="2.1"/>
<circle cx="318.75" cy="197.00" r="4.9" fill="none" stroke="#000" stroke-width="2.1"/>
<circle cx="304.50" cy="209.50" r="4.9" fill="none" stroke="#000" stroke-width="2.1"/>
<circle cx="332.50" cy="215.75" r="4.9" fill="none" stroke="#000" stroke-width="2.1"/>
<circle cx="318.75" cy="227.00" r="4.9" fill="none" stroke="#000" stroke-width="2.1"/>
<circle cx="370.50" cy="300.00" r="4.9" fill="none" stroke="#000" stroke-width="2.1"/>
<circle cx="381.25" cy="305.75" r="4.9" fill="none" stroke="#000" stroke-width="2.1"/>
<circle cx="392.00" cy="310.00" r="4.9" fill="none" stroke="#000" stroke-width="2.1"/>
<circle cx="403.00" cy="310.00" r="4.9" fill="none" stroke="#000" stroke-width="2.1"/>
<circle cx="452.00" cy="256.00" r="4.9" fill="none" stroke="#000" stroke-width="2.1"/>
<circle cx="439.40" cy="285.40" r="4.9" fill="none" stroke="#000" stroke-width="2.1"/>
<circle cx="468.00" cy="290.60" r="4.9" fill="none" stroke="#000" stroke-width="2.1"/>
<circle cx="452.00" cy="296.60" r="4.9" fill="none" stroke="#000" stroke-width="2.1"/>
<circle cx="518.00" cy="280.20" r="4.9" fill="none" stroke="#000" stroke-width="2.1"/>
<circle cx="530.20" cy="289.00" r="4.9" fill="none" stroke="#000" stroke-width="2.1"/>
<circle cx="506.50" cy="303.00" r="4.9" fill="none" stroke="#000" stroke-width="2.1"/>
<circle cx="530.00" cy="303.00" r="4.9" fill="none" stroke="#000" stroke-width="2.1"/>
<circle cx="584.25" cy="238.75" r="4.9" fill="none" stroke="#000" stroke-width="2.1"/>
<circle cx="575.75" cy="282.50" r="4.9" fill="none" stroke="#000" stroke-width="2.1"/>
<circle cx="596.25" cy="282.50" r="4.9" fill="none" stroke="#000" stroke-width="2.1"/>
<circle cx="584.25" cy="297.50" r="4.9" fill="none" stroke="#000" stroke-width="2.1"/>
<text transform="translate(274.43,171.75) scale(0.8562,1)" font-size="28.37">=1e-7</text>
<text transform="translate(254.50,170.40) skewX(-16)" font-size="28" font-style="italic">p</text>
<path d="M262.60 180.10L321.00 180.10" stroke="#000" stroke-width="2.3" fill="none"/>
<rect x="499.20" y="13.95" width="45.35" height="10.85" fill="#363636" stroke="#000" stroke-width="1.9"/>
<text transform="translate(556.81,25.60) scale(0.9252,1)" font-size="27.94">25mM glucose</text>
<rect x="499.20" y="50.20" width="45.35" height="10.60" fill="#E7E7E7" stroke="#000" stroke-width="1.9"/>
<text transform="translate(558.15,57.40) scale(0.9178,1)" font-size="27.94">1mM glucose</text>
<rect x="499.20" y="86.70" width="45.35" height="10.35" fill="#70AD47" stroke="#000" stroke-width="1.9"/>
<text transform="translate(558.16,93.70) scale(0.9159,1)" font-size="27.94">1mM glucose +U</text>
<rect x="499.20" y="116.45" width="45.35" height="10.60" fill="#FFC000" stroke="#000" stroke-width="1.9"/>
<text transform="translate(558.15,129.60) scale(0.9188,1)" font-size="27.94">1mM glucose +I</text>
<rect x="499.20" y="147.95" width="45.35" height="10.60" fill="#C55A11" stroke="#000" stroke-width="1.9"/>
<text transform="translate(558.17,163.50) scale(0.9106,1)" font-size="27.94">1mM glucose +A</text>
<rect x="499.20" y="179.70" width="45.35" height="10.60" fill="#5B9BD5" stroke="#000" stroke-width="1.9"/>
<text transform="translate(558.15,195.30) scale(0.9179,1)" font-size="27.94">1mM glucose +G</text>
<rect x="499.20" y="211.70" width="45.35" height="10.60" fill="#F19EC4" stroke="#000" stroke-width="1.9"/>
<text transform="translate(558.16,226.50) scale(0.9144,1)" font-size="27.94">1mM glucose +C</text>
</svg>
</body></html>
